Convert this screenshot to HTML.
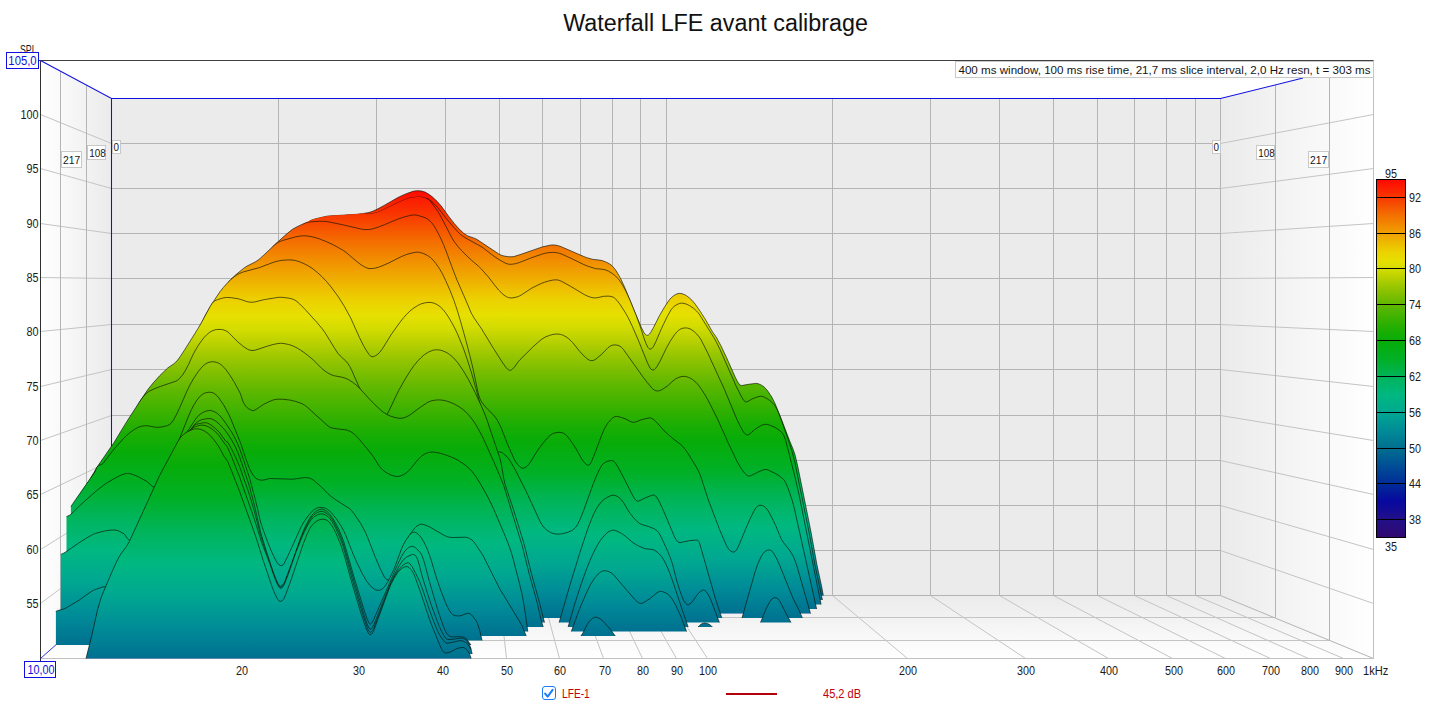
<!DOCTYPE html>
<html><head><meta charset="utf-8"><title>Waterfall</title>
<style>
html,body{margin:0;padding:0;background:#fff;}
body{width:1431px;height:709px;position:relative;overflow:hidden;font-family:"Liberation Sans",sans-serif;}
.t{position:absolute;font-size:12px;line-height:16px;color:#1a1a1a;white-space:nowrap;}
.n{transform:scaleX(.9);} .r{text-align:right;} .c{text-align:center;}
.title{position:absolute;left:0;width:1431px;top:8px;text-align:center;font-size:23.3px;line-height:30px;color:#111;}
.box span{display:inline-block;transform:scaleX(.9);}
.box{position:absolute;background:#fff;border:1px solid #c8c8c8;font-size:11.5px;line-height:13px;color:#151515;text-align:center;box-sizing:border-box;}
.bbox{position:absolute;background:#fff;border:1px solid #1010e0;color:#1010e0;font-size:12px;line-height:14px;text-align:center;box-sizing:border-box;}
</style></head><body>
<svg width="1431" height="709" viewBox="0 0 1431 709" style="position:absolute;left:0;top:0">
<defs>
<linearGradient id="lw" x1="0" x2="1" y1="0" y2="0"><stop offset="0" stop-color="#ffffff"/><stop offset="1" stop-color="#ebebeb"/></linearGradient>
<linearGradient id="rw" x1="0" x2="1" y1="0" y2="0"><stop offset="0" stop-color="#ebebeb"/><stop offset="1" stop-color="#ffffff"/></linearGradient>
<linearGradient id="fw" x1="0" x2="0" y1="0" y2="1"><stop offset="0" stop-color="#ebebeb"/><stop offset="1" stop-color="#ffffff"/></linearGradient>
</defs>
<polygon points="40.5,60.5 111.5,98.5 111.5,595.5 40.5,658.5" fill="url(#lw)"/>
<polygon points="1220.5,98.5 1373.5,60.5 1373.5,658.5 1220.5,595.5" fill="url(#rw)"/>
<polygon points="111.5,595.5 1220.5,595.5 1373.5,658.5 40.5,658.5" fill="url(#fw)"/>
<rect x="111.5" y="98.5" width="1109.0" height="497.0" fill="#ebebeb"/>
<g shape-rendering="auto"><line x1="278.5" y1="98.5" x2="278.5" y2="595.5" stroke="#b4b4b4"/><line x1="278.5" y1="595.5" x2="241.5" y2="658.5" stroke="#c4c4c4"/><line x1="376.5" y1="98.5" x2="376.5" y2="595.5" stroke="#b4b4b4"/><line x1="376.5" y1="595.5" x2="358.5" y2="658.5" stroke="#c4c4c4"/><line x1="445.5" y1="98.5" x2="445.5" y2="595.5" stroke="#b4b4b4"/><line x1="445.5" y1="595.5" x2="441.5" y2="658.5" stroke="#c4c4c4"/><line x1="499.5" y1="98.5" x2="499.5" y2="595.5" stroke="#b4b4b4"/><line x1="499.5" y1="595.5" x2="506.5" y2="658.5" stroke="#c4c4c4"/><line x1="542.5" y1="98.5" x2="542.5" y2="595.5" stroke="#b4b4b4"/><line x1="542.5" y1="595.5" x2="559.5" y2="658.5" stroke="#c4c4c4"/><line x1="580.5" y1="98.5" x2="580.5" y2="595.5" stroke="#b4b4b4"/><line x1="580.5" y1="595.5" x2="603.5" y2="658.5" stroke="#c4c4c4"/><line x1="612.5" y1="98.5" x2="612.5" y2="595.5" stroke="#b4b4b4"/><line x1="612.5" y1="595.5" x2="642.5" y2="658.5" stroke="#c4c4c4"/><line x1="640.5" y1="98.5" x2="640.5" y2="595.5" stroke="#b4b4b4"/><line x1="640.5" y1="595.5" x2="676.5" y2="658.5" stroke="#c4c4c4"/><line x1="666.5" y1="98.5" x2="666.5" y2="595.5" stroke="#b4b4b4"/><line x1="666.5" y1="595.5" x2="707.5" y2="658.5" stroke="#c4c4c4"/><line x1="832.5" y1="98.5" x2="832.5" y2="595.5" stroke="#b4b4b4"/><line x1="832.5" y1="595.5" x2="907.5" y2="658.5" stroke="#c4c4c4"/><line x1="930.5" y1="98.5" x2="930.5" y2="595.5" stroke="#b4b4b4"/><line x1="930.5" y1="595.5" x2="1025.5" y2="658.5" stroke="#c4c4c4"/><line x1="999.5" y1="98.5" x2="999.5" y2="595.5" stroke="#b4b4b4"/><line x1="999.5" y1="595.5" x2="1108.5" y2="658.5" stroke="#c4c4c4"/><line x1="1053.5" y1="98.5" x2="1053.5" y2="595.5" stroke="#b4b4b4"/><line x1="1053.5" y1="595.5" x2="1172.5" y2="658.5" stroke="#c4c4c4"/><line x1="1097.5" y1="98.5" x2="1097.5" y2="595.5" stroke="#b4b4b4"/><line x1="1097.5" y1="595.5" x2="1225.5" y2="658.5" stroke="#c4c4c4"/><line x1="1134.5" y1="98.5" x2="1134.5" y2="595.5" stroke="#b4b4b4"/><line x1="1134.5" y1="595.5" x2="1270.5" y2="658.5" stroke="#c4c4c4"/><line x1="1166.5" y1="98.5" x2="1166.5" y2="595.5" stroke="#b4b4b4"/><line x1="1166.5" y1="595.5" x2="1308.5" y2="658.5" stroke="#c4c4c4"/><line x1="1195.5" y1="98.5" x2="1195.5" y2="595.5" stroke="#b4b4b4"/><line x1="1195.5" y1="595.5" x2="1343.5" y2="658.5" stroke="#c4c4c4"/><line x1="111.5" y1="550.5" x2="1220.5" y2="550.5" stroke="#b4b4b4"/><line x1="40.5" y1="603.5" x2="111.5" y2="550.5" stroke="#c4c4c4"/><line x1="1220.5" y1="550.5" x2="1373.5" y2="603.5" stroke="#c4c4c4"/><line x1="111.5" y1="505.5" x2="1220.5" y2="505.5" stroke="#b4b4b4"/><line x1="40.5" y1="549.5" x2="111.5" y2="505.5" stroke="#c4c4c4"/><line x1="1220.5" y1="505.5" x2="1373.5" y2="549.5" stroke="#c4c4c4"/><line x1="111.5" y1="460.5" x2="1220.5" y2="460.5" stroke="#b4b4b4"/><line x1="40.5" y1="494.5" x2="111.5" y2="460.5" stroke="#c4c4c4"/><line x1="1220.5" y1="460.5" x2="1373.5" y2="494.5" stroke="#c4c4c4"/><line x1="111.5" y1="415.5" x2="1220.5" y2="415.5" stroke="#b4b4b4"/><line x1="40.5" y1="440.5" x2="111.5" y2="415.5" stroke="#c4c4c4"/><line x1="1220.5" y1="415.5" x2="1373.5" y2="440.5" stroke="#c4c4c4"/><line x1="111.5" y1="369.5" x2="1220.5" y2="369.5" stroke="#b4b4b4"/><line x1="40.5" y1="386.5" x2="111.5" y2="369.5" stroke="#c4c4c4"/><line x1="1220.5" y1="369.5" x2="1373.5" y2="386.5" stroke="#c4c4c4"/><line x1="111.5" y1="324.5" x2="1220.5" y2="324.5" stroke="#b4b4b4"/><line x1="40.5" y1="331.5" x2="111.5" y2="324.5" stroke="#c4c4c4"/><line x1="1220.5" y1="324.5" x2="1373.5" y2="331.5" stroke="#c4c4c4"/><line x1="111.5" y1="278.5" x2="1220.5" y2="278.5" stroke="#b4b4b4"/><line x1="40.5" y1="277.5" x2="111.5" y2="278.5" stroke="#c4c4c4"/><line x1="1220.5" y1="278.5" x2="1373.5" y2="277.5" stroke="#c4c4c4"/><line x1="111.5" y1="233.5" x2="1220.5" y2="233.5" stroke="#b4b4b4"/><line x1="40.5" y1="223.5" x2="111.5" y2="233.5" stroke="#c4c4c4"/><line x1="1220.5" y1="233.5" x2="1373.5" y2="223.5" stroke="#c4c4c4"/><line x1="111.5" y1="188.5" x2="1220.5" y2="188.5" stroke="#b4b4b4"/><line x1="40.5" y1="168.5" x2="111.5" y2="188.5" stroke="#c4c4c4"/><line x1="1220.5" y1="188.5" x2="1373.5" y2="168.5" stroke="#c4c4c4"/><line x1="111.5" y1="143.5" x2="1220.5" y2="143.5" stroke="#b4b4b4"/><line x1="40.5" y1="114.5" x2="111.5" y2="143.5" stroke="#c4c4c4"/><line x1="1220.5" y1="143.5" x2="1373.5" y2="114.5" stroke="#c4c4c4"/><line x1="86.5" y1="84.9" x2="86.5" y2="617.5" stroke="#b4b4b4"/><line x1="1275.5" y1="84.9" x2="1275.5" y2="617.5" stroke="#b4b4b4"/><line x1="86.5" y1="617.5" x2="1275.5" y2="617.5" stroke="#c4c4c4"/><line x1="60.5" y1="71.4" x2="60.5" y2="640.5" stroke="#b4b4b4"/><line x1="1329.5" y1="71.4" x2="1329.5" y2="640.5" stroke="#b4b4b4"/><line x1="60.5" y1="640.5" x2="1329.5" y2="640.5" stroke="#c4c4c4"/><line x1="1220.5" y1="98.5" x2="1220.5" y2="595.5" stroke="#b4b4b4"/><line x1="111.5" y1="595.5" x2="1220.5" y2="595.5" stroke="#b4b4b4"/><line x1="1220.5" y1="595.5" x2="1373.5" y2="658.5" stroke="#b4b4b4"/><line x1="1373.5" y1="60.5" x2="1373.5" y2="658.5" stroke="#c0c0c0"/><line x1="40.5" y1="658.5" x2="1373.5" y2="658.5" stroke="#c0c0c0"/><line x1="40.5" y1="60.5" x2="1373.5" y2="60.5" stroke="#404040"/><line x1="40.5" y1="60.5" x2="40.5" y2="661.0" stroke="#303030"/><line x1="38.5" y1="60.5" x2="40.5" y2="60.5" stroke="#303030"/><polyline points="40.5,60.5 111.5,98.5 1220.5,98.5 1303,78" fill="none" stroke="#1010e0" stroke-width="1.05"/><line x1="111.5" y1="98.5" x2="111.5" y2="595.5" stroke="#1010e0" stroke-width="1.05"/><line x1="40.5" y1="658.5" x2="111.5" y2="595.5" stroke="#1010e0" stroke-width="1" stroke-opacity=".85"/></g>
<defs>
<linearGradient id="g0" gradientUnits="userSpaceOnUse" x1="0" y1="595.50" x2="0" y2="98.50"><stop offset="-0.0573" stop-color="#004e96"/><stop offset="-0.0027" stop-color="#007090"/><stop offset="0.0518" stop-color="#008c98"/><stop offset="0.1064" stop-color="#00a890"/><stop offset="0.1609" stop-color="#00b880"/><stop offset="0.2155" stop-color="#00b458"/><stop offset="0.2700" stop-color="#00b024"/><stop offset="0.3245" stop-color="#08ac08"/><stop offset="0.3518" stop-color="#18ae04"/><stop offset="0.3791" stop-color="#30b000"/><stop offset="0.4064" stop-color="#48b400"/><stop offset="0.4336" stop-color="#60b800"/><stop offset="0.4609" stop-color="#7cbe00"/><stop offset="0.4882" stop-color="#98c600"/><stop offset="0.5155" stop-color="#b8d000"/><stop offset="0.5427" stop-color="#d4dc00"/><stop offset="0.5664" stop-color="#e6e000"/><stop offset="0.5973" stop-color="#ecd000"/><stop offset="0.6518" stop-color="#f0a000"/><stop offset="0.7064" stop-color="#f47000"/><stop offset="0.7609" stop-color="#f83800"/><stop offset="0.8155" stop-color="#ff0800"/><stop offset="0.9973" stop-color="#ff0000"/></linearGradient>
<linearGradient id="g1" gradientUnits="userSpaceOnUse" x1="0" y1="600.00" x2="0" y2="95.79"><stop offset="-0.0573" stop-color="#004e96"/><stop offset="-0.0027" stop-color="#007090"/><stop offset="0.0518" stop-color="#008c98"/><stop offset="0.1064" stop-color="#00a890"/><stop offset="0.1609" stop-color="#00b880"/><stop offset="0.2155" stop-color="#00b458"/><stop offset="0.2700" stop-color="#00b024"/><stop offset="0.3245" stop-color="#08ac08"/><stop offset="0.3518" stop-color="#18ae04"/><stop offset="0.3791" stop-color="#30b000"/><stop offset="0.4064" stop-color="#48b400"/><stop offset="0.4336" stop-color="#60b800"/><stop offset="0.4609" stop-color="#7cbe00"/><stop offset="0.4882" stop-color="#98c600"/><stop offset="0.5155" stop-color="#b8d000"/><stop offset="0.5427" stop-color="#d4dc00"/><stop offset="0.5664" stop-color="#e6e000"/><stop offset="0.5973" stop-color="#ecd000"/><stop offset="0.6518" stop-color="#f0a000"/><stop offset="0.7064" stop-color="#f47000"/><stop offset="0.7609" stop-color="#f83800"/><stop offset="0.8155" stop-color="#ff0800"/><stop offset="0.9973" stop-color="#ff0000"/></linearGradient>
<linearGradient id="g2" gradientUnits="userSpaceOnUse" x1="0" y1="604.50" x2="0" y2="93.07"><stop offset="-0.0573" stop-color="#004e96"/><stop offset="-0.0027" stop-color="#007090"/><stop offset="0.0518" stop-color="#008c98"/><stop offset="0.1064" stop-color="#00a890"/><stop offset="0.1609" stop-color="#00b880"/><stop offset="0.2155" stop-color="#00b458"/><stop offset="0.2700" stop-color="#00b024"/><stop offset="0.3245" stop-color="#08ac08"/><stop offset="0.3518" stop-color="#18ae04"/><stop offset="0.3791" stop-color="#30b000"/><stop offset="0.4064" stop-color="#48b400"/><stop offset="0.4336" stop-color="#60b800"/><stop offset="0.4609" stop-color="#7cbe00"/><stop offset="0.4882" stop-color="#98c600"/><stop offset="0.5155" stop-color="#b8d000"/><stop offset="0.5427" stop-color="#d4dc00"/><stop offset="0.5664" stop-color="#e6e000"/><stop offset="0.5973" stop-color="#ecd000"/><stop offset="0.6518" stop-color="#f0a000"/><stop offset="0.7064" stop-color="#f47000"/><stop offset="0.7609" stop-color="#f83800"/><stop offset="0.8155" stop-color="#ff0800"/><stop offset="0.9973" stop-color="#ff0000"/></linearGradient>
<linearGradient id="g3" gradientUnits="userSpaceOnUse" x1="0" y1="609.00" x2="0" y2="90.36"><stop offset="-0.0573" stop-color="#004e96"/><stop offset="-0.0027" stop-color="#007090"/><stop offset="0.0518" stop-color="#008c98"/><stop offset="0.1064" stop-color="#00a890"/><stop offset="0.1609" stop-color="#00b880"/><stop offset="0.2155" stop-color="#00b458"/><stop offset="0.2700" stop-color="#00b024"/><stop offset="0.3245" stop-color="#08ac08"/><stop offset="0.3518" stop-color="#18ae04"/><stop offset="0.3791" stop-color="#30b000"/><stop offset="0.4064" stop-color="#48b400"/><stop offset="0.4336" stop-color="#60b800"/><stop offset="0.4609" stop-color="#7cbe00"/><stop offset="0.4882" stop-color="#98c600"/><stop offset="0.5155" stop-color="#b8d000"/><stop offset="0.5427" stop-color="#d4dc00"/><stop offset="0.5664" stop-color="#e6e000"/><stop offset="0.5973" stop-color="#ecd000"/><stop offset="0.6518" stop-color="#f0a000"/><stop offset="0.7064" stop-color="#f47000"/><stop offset="0.7609" stop-color="#f83800"/><stop offset="0.8155" stop-color="#ff0800"/><stop offset="0.9973" stop-color="#ff0000"/></linearGradient>
<linearGradient id="g4" gradientUnits="userSpaceOnUse" x1="0" y1="613.50" x2="0" y2="87.64"><stop offset="-0.0573" stop-color="#004e96"/><stop offset="-0.0027" stop-color="#007090"/><stop offset="0.0518" stop-color="#008c98"/><stop offset="0.1064" stop-color="#00a890"/><stop offset="0.1609" stop-color="#00b880"/><stop offset="0.2155" stop-color="#00b458"/><stop offset="0.2700" stop-color="#00b024"/><stop offset="0.3245" stop-color="#08ac08"/><stop offset="0.3518" stop-color="#18ae04"/><stop offset="0.3791" stop-color="#30b000"/><stop offset="0.4064" stop-color="#48b400"/><stop offset="0.4336" stop-color="#60b800"/><stop offset="0.4609" stop-color="#7cbe00"/><stop offset="0.4882" stop-color="#98c600"/><stop offset="0.5155" stop-color="#b8d000"/><stop offset="0.5427" stop-color="#d4dc00"/><stop offset="0.5664" stop-color="#e6e000"/><stop offset="0.5973" stop-color="#ecd000"/><stop offset="0.6518" stop-color="#f0a000"/><stop offset="0.7064" stop-color="#f47000"/><stop offset="0.7609" stop-color="#f83800"/><stop offset="0.8155" stop-color="#ff0800"/><stop offset="0.9973" stop-color="#ff0000"/></linearGradient>
<linearGradient id="g5" gradientUnits="userSpaceOnUse" x1="0" y1="618.00" x2="0" y2="84.93"><stop offset="-0.0573" stop-color="#004e96"/><stop offset="-0.0027" stop-color="#007090"/><stop offset="0.0518" stop-color="#008c98"/><stop offset="0.1064" stop-color="#00a890"/><stop offset="0.1609" stop-color="#00b880"/><stop offset="0.2155" stop-color="#00b458"/><stop offset="0.2700" stop-color="#00b024"/><stop offset="0.3245" stop-color="#08ac08"/><stop offset="0.3518" stop-color="#18ae04"/><stop offset="0.3791" stop-color="#30b000"/><stop offset="0.4064" stop-color="#48b400"/><stop offset="0.4336" stop-color="#60b800"/><stop offset="0.4609" stop-color="#7cbe00"/><stop offset="0.4882" stop-color="#98c600"/><stop offset="0.5155" stop-color="#b8d000"/><stop offset="0.5427" stop-color="#d4dc00"/><stop offset="0.5664" stop-color="#e6e000"/><stop offset="0.5973" stop-color="#ecd000"/><stop offset="0.6518" stop-color="#f0a000"/><stop offset="0.7064" stop-color="#f47000"/><stop offset="0.7609" stop-color="#f83800"/><stop offset="0.8155" stop-color="#ff0800"/><stop offset="0.9973" stop-color="#ff0000"/></linearGradient>
<linearGradient id="g6" gradientUnits="userSpaceOnUse" x1="0" y1="622.50" x2="0" y2="82.21"><stop offset="-0.0573" stop-color="#004e96"/><stop offset="-0.0027" stop-color="#007090"/><stop offset="0.0518" stop-color="#008c98"/><stop offset="0.1064" stop-color="#00a890"/><stop offset="0.1609" stop-color="#00b880"/><stop offset="0.2155" stop-color="#00b458"/><stop offset="0.2700" stop-color="#00b024"/><stop offset="0.3245" stop-color="#08ac08"/><stop offset="0.3518" stop-color="#18ae04"/><stop offset="0.3791" stop-color="#30b000"/><stop offset="0.4064" stop-color="#48b400"/><stop offset="0.4336" stop-color="#60b800"/><stop offset="0.4609" stop-color="#7cbe00"/><stop offset="0.4882" stop-color="#98c600"/><stop offset="0.5155" stop-color="#b8d000"/><stop offset="0.5427" stop-color="#d4dc00"/><stop offset="0.5664" stop-color="#e6e000"/><stop offset="0.5973" stop-color="#ecd000"/><stop offset="0.6518" stop-color="#f0a000"/><stop offset="0.7064" stop-color="#f47000"/><stop offset="0.7609" stop-color="#f83800"/><stop offset="0.8155" stop-color="#ff0800"/><stop offset="0.9973" stop-color="#ff0000"/></linearGradient>
<linearGradient id="g7" gradientUnits="userSpaceOnUse" x1="0" y1="627.00" x2="0" y2="79.50"><stop offset="-0.0573" stop-color="#004e96"/><stop offset="-0.0027" stop-color="#007090"/><stop offset="0.0518" stop-color="#008c98"/><stop offset="0.1064" stop-color="#00a890"/><stop offset="0.1609" stop-color="#00b880"/><stop offset="0.2155" stop-color="#00b458"/><stop offset="0.2700" stop-color="#00b024"/><stop offset="0.3245" stop-color="#08ac08"/><stop offset="0.3518" stop-color="#18ae04"/><stop offset="0.3791" stop-color="#30b000"/><stop offset="0.4064" stop-color="#48b400"/><stop offset="0.4336" stop-color="#60b800"/><stop offset="0.4609" stop-color="#7cbe00"/><stop offset="0.4882" stop-color="#98c600"/><stop offset="0.5155" stop-color="#b8d000"/><stop offset="0.5427" stop-color="#d4dc00"/><stop offset="0.5664" stop-color="#e6e000"/><stop offset="0.5973" stop-color="#ecd000"/><stop offset="0.6518" stop-color="#f0a000"/><stop offset="0.7064" stop-color="#f47000"/><stop offset="0.7609" stop-color="#f83800"/><stop offset="0.8155" stop-color="#ff0800"/><stop offset="0.9973" stop-color="#ff0000"/></linearGradient>
<linearGradient id="g8" gradientUnits="userSpaceOnUse" x1="0" y1="631.50" x2="0" y2="76.79"><stop offset="-0.0573" stop-color="#004e96"/><stop offset="-0.0027" stop-color="#007090"/><stop offset="0.0518" stop-color="#008c98"/><stop offset="0.1064" stop-color="#00a890"/><stop offset="0.1609" stop-color="#00b880"/><stop offset="0.2155" stop-color="#00b458"/><stop offset="0.2700" stop-color="#00b024"/><stop offset="0.3245" stop-color="#08ac08"/><stop offset="0.3518" stop-color="#18ae04"/><stop offset="0.3791" stop-color="#30b000"/><stop offset="0.4064" stop-color="#48b400"/><stop offset="0.4336" stop-color="#60b800"/><stop offset="0.4609" stop-color="#7cbe00"/><stop offset="0.4882" stop-color="#98c600"/><stop offset="0.5155" stop-color="#b8d000"/><stop offset="0.5427" stop-color="#d4dc00"/><stop offset="0.5664" stop-color="#e6e000"/><stop offset="0.5973" stop-color="#ecd000"/><stop offset="0.6518" stop-color="#f0a000"/><stop offset="0.7064" stop-color="#f47000"/><stop offset="0.7609" stop-color="#f83800"/><stop offset="0.8155" stop-color="#ff0800"/><stop offset="0.9973" stop-color="#ff0000"/></linearGradient>
<linearGradient id="g9" gradientUnits="userSpaceOnUse" x1="0" y1="636.00" x2="0" y2="74.07"><stop offset="-0.0573" stop-color="#004e96"/><stop offset="-0.0027" stop-color="#007090"/><stop offset="0.0518" stop-color="#008c98"/><stop offset="0.1064" stop-color="#00a890"/><stop offset="0.1609" stop-color="#00b880"/><stop offset="0.2155" stop-color="#00b458"/><stop offset="0.2700" stop-color="#00b024"/><stop offset="0.3245" stop-color="#08ac08"/><stop offset="0.3518" stop-color="#18ae04"/><stop offset="0.3791" stop-color="#30b000"/><stop offset="0.4064" stop-color="#48b400"/><stop offset="0.4336" stop-color="#60b800"/><stop offset="0.4609" stop-color="#7cbe00"/><stop offset="0.4882" stop-color="#98c600"/><stop offset="0.5155" stop-color="#b8d000"/><stop offset="0.5427" stop-color="#d4dc00"/><stop offset="0.5664" stop-color="#e6e000"/><stop offset="0.5973" stop-color="#ecd000"/><stop offset="0.6518" stop-color="#f0a000"/><stop offset="0.7064" stop-color="#f47000"/><stop offset="0.7609" stop-color="#f83800"/><stop offset="0.8155" stop-color="#ff0800"/><stop offset="0.9973" stop-color="#ff0000"/></linearGradient>
<linearGradient id="g10" gradientUnits="userSpaceOnUse" x1="0" y1="640.50" x2="0" y2="71.36"><stop offset="-0.0573" stop-color="#004e96"/><stop offset="-0.0027" stop-color="#007090"/><stop offset="0.0518" stop-color="#008c98"/><stop offset="0.1064" stop-color="#00a890"/><stop offset="0.1609" stop-color="#00b880"/><stop offset="0.2155" stop-color="#00b458"/><stop offset="0.2700" stop-color="#00b024"/><stop offset="0.3245" stop-color="#08ac08"/><stop offset="0.3518" stop-color="#18ae04"/><stop offset="0.3791" stop-color="#30b000"/><stop offset="0.4064" stop-color="#48b400"/><stop offset="0.4336" stop-color="#60b800"/><stop offset="0.4609" stop-color="#7cbe00"/><stop offset="0.4882" stop-color="#98c600"/><stop offset="0.5155" stop-color="#b8d000"/><stop offset="0.5427" stop-color="#d4dc00"/><stop offset="0.5664" stop-color="#e6e000"/><stop offset="0.5973" stop-color="#ecd000"/><stop offset="0.6518" stop-color="#f0a000"/><stop offset="0.7064" stop-color="#f47000"/><stop offset="0.7609" stop-color="#f83800"/><stop offset="0.8155" stop-color="#ff0800"/><stop offset="0.9973" stop-color="#ff0000"/></linearGradient>
<linearGradient id="g11" gradientUnits="userSpaceOnUse" x1="0" y1="645.00" x2="0" y2="68.64"><stop offset="-0.0573" stop-color="#004e96"/><stop offset="-0.0027" stop-color="#007090"/><stop offset="0.0518" stop-color="#008c98"/><stop offset="0.1064" stop-color="#00a890"/><stop offset="0.1609" stop-color="#00b880"/><stop offset="0.2155" stop-color="#00b458"/><stop offset="0.2700" stop-color="#00b024"/><stop offset="0.3245" stop-color="#08ac08"/><stop offset="0.3518" stop-color="#18ae04"/><stop offset="0.3791" stop-color="#30b000"/><stop offset="0.4064" stop-color="#48b400"/><stop offset="0.4336" stop-color="#60b800"/><stop offset="0.4609" stop-color="#7cbe00"/><stop offset="0.4882" stop-color="#98c600"/><stop offset="0.5155" stop-color="#b8d000"/><stop offset="0.5427" stop-color="#d4dc00"/><stop offset="0.5664" stop-color="#e6e000"/><stop offset="0.5973" stop-color="#ecd000"/><stop offset="0.6518" stop-color="#f0a000"/><stop offset="0.7064" stop-color="#f47000"/><stop offset="0.7609" stop-color="#f83800"/><stop offset="0.8155" stop-color="#ff0800"/><stop offset="0.9973" stop-color="#ff0000"/></linearGradient>
<linearGradient id="g12" gradientUnits="userSpaceOnUse" x1="0" y1="649.50" x2="0" y2="65.93"><stop offset="-0.0573" stop-color="#004e96"/><stop offset="-0.0027" stop-color="#007090"/><stop offset="0.0518" stop-color="#008c98"/><stop offset="0.1064" stop-color="#00a890"/><stop offset="0.1609" stop-color="#00b880"/><stop offset="0.2155" stop-color="#00b458"/><stop offset="0.2700" stop-color="#00b024"/><stop offset="0.3245" stop-color="#08ac08"/><stop offset="0.3518" stop-color="#18ae04"/><stop offset="0.3791" stop-color="#30b000"/><stop offset="0.4064" stop-color="#48b400"/><stop offset="0.4336" stop-color="#60b800"/><stop offset="0.4609" stop-color="#7cbe00"/><stop offset="0.4882" stop-color="#98c600"/><stop offset="0.5155" stop-color="#b8d000"/><stop offset="0.5427" stop-color="#d4dc00"/><stop offset="0.5664" stop-color="#e6e000"/><stop offset="0.5973" stop-color="#ecd000"/><stop offset="0.6518" stop-color="#f0a000"/><stop offset="0.7064" stop-color="#f47000"/><stop offset="0.7609" stop-color="#f83800"/><stop offset="0.8155" stop-color="#ff0800"/><stop offset="0.9973" stop-color="#ff0000"/></linearGradient>
<linearGradient id="g13" gradientUnits="userSpaceOnUse" x1="0" y1="654.00" x2="0" y2="63.21"><stop offset="-0.0573" stop-color="#004e96"/><stop offset="-0.0027" stop-color="#007090"/><stop offset="0.0518" stop-color="#008c98"/><stop offset="0.1064" stop-color="#00a890"/><stop offset="0.1609" stop-color="#00b880"/><stop offset="0.2155" stop-color="#00b458"/><stop offset="0.2700" stop-color="#00b024"/><stop offset="0.3245" stop-color="#08ac08"/><stop offset="0.3518" stop-color="#18ae04"/><stop offset="0.3791" stop-color="#30b000"/><stop offset="0.4064" stop-color="#48b400"/><stop offset="0.4336" stop-color="#60b800"/><stop offset="0.4609" stop-color="#7cbe00"/><stop offset="0.4882" stop-color="#98c600"/><stop offset="0.5155" stop-color="#b8d000"/><stop offset="0.5427" stop-color="#d4dc00"/><stop offset="0.5664" stop-color="#e6e000"/><stop offset="0.5973" stop-color="#ecd000"/><stop offset="0.6518" stop-color="#f0a000"/><stop offset="0.7064" stop-color="#f47000"/><stop offset="0.7609" stop-color="#f83800"/><stop offset="0.8155" stop-color="#ff0800"/><stop offset="0.9973" stop-color="#ff0000"/></linearGradient>
<linearGradient id="g14" gradientUnits="userSpaceOnUse" x1="0" y1="658.50" x2="0" y2="60.50"><stop offset="-0.0573" stop-color="#004e96"/><stop offset="-0.0027" stop-color="#007090"/><stop offset="0.0518" stop-color="#008c98"/><stop offset="0.1064" stop-color="#00a890"/><stop offset="0.1609" stop-color="#00b880"/><stop offset="0.2155" stop-color="#00b458"/><stop offset="0.2700" stop-color="#00b024"/><stop offset="0.3245" stop-color="#08ac08"/><stop offset="0.3518" stop-color="#18ae04"/><stop offset="0.3791" stop-color="#30b000"/><stop offset="0.4064" stop-color="#48b400"/><stop offset="0.4336" stop-color="#60b800"/><stop offset="0.4609" stop-color="#7cbe00"/><stop offset="0.4882" stop-color="#98c600"/><stop offset="0.5155" stop-color="#b8d000"/><stop offset="0.5427" stop-color="#d4dc00"/><stop offset="0.5664" stop-color="#e6e000"/><stop offset="0.5973" stop-color="#ecd000"/><stop offset="0.6518" stop-color="#f0a000"/><stop offset="0.7064" stop-color="#f47000"/><stop offset="0.7609" stop-color="#f83800"/><stop offset="0.8155" stop-color="#ff0800"/><stop offset="0.9973" stop-color="#ff0000"/></linearGradient>
</defs>
<path d="M111.5,448.8 115.2,443.2 124.0,428.6 135.5,410.5 142.2,400.2 148.0,391.9 154.2,384.1 161.2,376.6 167.8,370.4 174.5,365.8 176.2,364.2 177.8,362.4 183.0,354.9 196.8,333.1 200.5,326.8 210.2,309.3 214.5,302.3 218.5,296.3 222.5,291.0 227.2,285.6 233.5,279.3 239.5,274.0 245.2,269.6 254.5,264.8 258.5,262.2 263.2,258.1 281.5,241.0 289.0,234.5 292.2,232.0 295.5,230.0 299.2,228.1 307.5,224.4 308.0,223.9 309.5,221.1 310.0,220.6 315.0,218.9 323.5,216.9 327.5,216.1 356.5,214.3 364.0,213.4 369.0,212.5 372.8,211.2 377.0,209.3 384.2,205.4 397.0,198.0 401.2,195.9 405.8,193.9 411.5,191.8 414.5,190.9 418.0,190.7 421.5,191.0 425.0,192.1 428.5,194.0 432.0,196.6 437.0,201.2 441.2,206.0 448.8,216.5 454.2,223.4 459.2,229.1 463.5,233.1 465.8,234.7 467.8,235.9 474.8,238.4 477.2,239.6 498.5,253.8 501.2,255.2 504.0,256.0 508.0,256.7 511.0,256.8 513.8,256.6 521.0,254.3 538.0,248.4 542.8,246.8 549.5,245.3 552.2,244.9 554.5,245.0 557.8,245.5 561.2,246.7 583.8,256.5 586.8,257.7 593.0,259.4 599.5,260.1 602.2,260.6 605.8,261.9 609.5,263.8 612.0,265.8 614.8,268.9 617.5,273.1 620.8,278.9 625.2,288.5 634.8,312.1 641.5,327.8 644.2,333.0 645.5,334.5 646.5,335.2 647.5,335.3 648.5,334.9 649.5,334.0 650.5,332.7 653.5,327.5 659.5,315.6 664.8,306.6 669.2,300.0 671.2,297.8 673.5,295.8 675.8,294.4 677.8,293.6 679.8,293.4 682.0,293.7 684.2,294.5 686.5,295.7 689.5,298.0 692.0,300.3 695.2,304.1 700.2,311.3 704.8,318.5 712.8,332.4 716.0,336.8 717.2,338.8 720.8,345.5 726.5,357.5 735.5,377.8 737.5,381.6 739.0,383.8 740.2,385.1 741.5,385.6 748.5,384.3 755.8,383.4 758.2,383.7 761.0,384.9 762.8,386.0 764.2,387.1 766.0,388.9 767.8,391.1 771.8,397.1 775.0,403.4 780.8,417.7 789.5,440.5 793.0,449.0 794.8,454.1 796.2,459.6 798.2,468.4 811.0,532.1 817.0,565.2 821.5,585.9 823.3,595.5 L823.3,595.5 L111.5,595.5Z" fill="url(#g0)"/>
<path d="M295.5,230.0 299.2,228.1 307.5,224.4 308.0,223.9 309.5,221.1 310.0,220.6 315.0,218.9 323.5,216.9 327.5,216.1 356.5,214.3 364.0,213.4 369.0,212.5 372.8,211.2 377.0,209.3 384.2,205.4 397.0,198.0 401.2,195.9 405.8,193.9 411.5,191.8 414.5,190.9 418.0,190.7 421.5,191.0 425.0,192.1 428.5,194.0 432.0,196.6 437.0,201.2 441.2,206.0 448.8,216.5 454.2,223.4 459.2,229.1 463.5,233.1 465.8,234.7 467.8,235.9 474.8,238.4 477.2,239.6 498.5,253.8 501.2,255.2 504.0,256.0 508.0,256.7 511.0,256.8 513.8,256.6 521.0,254.3 538.0,248.4 542.8,246.8 549.5,245.3 552.2,244.9 554.5,245.0 557.8,245.5 561.2,246.7 583.8,256.5 586.8,257.7 593.0,259.4 599.5,260.1 602.2,260.6 605.8,261.9 609.5,263.8 612.0,265.8 614.8,268.9 617.5,273.1 620.8,278.9 625.2,288.5 634.8,312.1 641.5,327.8 644.2,333.0 645.5,334.5 646.5,335.2 647.5,335.3 648.5,334.9 649.5,334.0 650.5,332.7 653.5,327.5 659.5,315.6 664.8,306.6 669.2,300.0 671.2,297.8 673.5,295.8 675.8,294.4 677.8,293.6 679.8,293.4 682.0,293.7 684.2,294.5 686.5,295.7 689.5,298.0 692.0,300.3 695.2,304.1 700.2,311.3 704.8,318.5 712.8,332.4 716.0,336.8 717.2,338.8 720.8,345.5 726.5,357.5 735.5,377.8 737.5,381.6 739.0,383.8 740.2,385.1 741.5,385.6 748.5,384.3 755.8,383.4 758.2,383.7 761.0,384.9 762.8,386.0 764.2,387.1 766.0,388.9 767.8,391.1 771.8,397.1 775.0,403.4 780.8,417.7 789.5,440.5 793.0,449.0 794.8,454.1 796.2,459.6 798.2,468.4 811.0,532.1 817.0,565.2 821.5,585.9 823.3,595.5" fill="none" stroke="#081004" stroke-width="0.75" stroke-opacity="0.85" stroke-linejoin="round"/>
<path d="M106.4,455.6 114.2,444.3 123.7,428.6 131.7,416.0 140.4,402.5 147.7,391.8 153.9,384.0 161.2,376.2 167.7,370.0 174.7,365.1 176.2,363.7 177.7,362.0 183.2,354.1 196.9,332.3 200.7,326.0 210.2,308.9 214.7,301.6 218.7,295.5 222.9,290.0 227.9,284.4 234.4,278.0 240.7,272.5 245.4,269.0 254.9,264.1 258.9,261.4 263.4,257.4 274.7,246.7 282.7,239.4 291.2,232.3 295.9,229.3 302.4,226.2 304.4,223.3 312.2,219.8 321.4,217.3 328.4,216.0 352.7,214.6 364.4,213.4 366.9,214.3 370.2,214.0 373.2,213.5 376.9,212.6 380.7,211.2 396.7,203.3 406.9,198.8 410.7,197.9 416.7,197.1 420.2,197.1 423.2,197.4 426.2,198.3 428.9,199.6 431.7,201.5 434.4,204.0 438.4,208.4 446.9,219.2 454.2,227.8 458.2,232.2 461.4,235.1 463.9,236.9 467.2,238.9 480.9,246.4 484.2,248.7 491.9,254.7 495.7,257.4 501.4,261.0 505.9,263.4 508.2,264.1 510.2,264.3 512.4,264.2 515.4,263.7 519.4,262.5 531.9,257.6 542.9,253.8 545.9,253.1 549.2,252.6 552.4,252.4 555.2,252.5 558.7,253.1 561.9,254.1 571.2,258.4 583.9,264.6 588.2,266.3 595.4,268.6 602.7,269.3 605.4,269.9 608.4,271.1 612.2,273.4 615.7,276.1 619.2,280.0 622.4,284.8 625.9,291.3 630.4,301.2 636.2,315.5 639.4,324.2 643.9,337.8 645.9,343.3 647.9,347.3 648.9,348.5 649.7,349.0 650.7,349.1 651.7,348.6 652.7,347.6 653.9,345.7 655.9,341.6 661.4,328.7 667.4,316.2 671.2,309.6 672.7,307.7 674.2,306.3 676.7,304.7 679.4,303.5 681.7,303.1 683.9,303.4 686.9,304.3 689.7,305.7 693.7,308.4 696.4,310.8 698.2,312.8 699.7,314.9 713.7,337.3 716.4,342.1 720.2,349.9 736.4,386.7 741.9,397.5 743.9,400.6 745.2,401.7 745.9,402.0 746.4,401.9 748.2,401.2 752.7,398.7 757.2,397.0 760.2,396.2 762.4,396.4 764.4,397.2 767.7,399.1 769.7,400.5 771.7,402.2 773.7,404.3 775.2,406.2 776.4,408.2 777.7,410.8 781.9,421.7 788.2,439.5 792.2,452.0 794.9,462.4 809.2,533.0 814.9,564.9 822.4,600.0 L822.4,600.0 L106.4,600.0Z" fill="url(#g1)"/>
<path d="M364.4,213.4 366.9,214.3 370.2,214.0 373.2,213.5 376.9,212.6 380.7,211.2 396.7,203.3 406.9,198.8 410.7,197.9 416.7,197.1 420.2,197.1 423.2,197.4 426.2,198.3 428.9,199.6 431.7,201.5 434.4,204.0 438.4,208.4 446.9,219.2 454.2,227.8 458.2,232.2 461.4,235.1 463.9,236.9 467.2,238.9 480.9,246.4 484.2,248.7 491.9,254.7 495.7,257.4 501.4,261.0 505.9,263.4 508.2,264.1 510.2,264.3 512.4,264.2 515.4,263.7 519.4,262.5 531.9,257.6 542.9,253.8 545.9,253.1 549.2,252.6 552.4,252.4 555.2,252.5 558.7,253.1 561.9,254.1 571.2,258.4 583.9,264.6 588.2,266.3 595.4,268.6 602.7,269.3 605.4,269.9 608.4,271.1 612.2,273.4 615.7,276.1 619.2,280.0 622.4,284.8 625.9,291.3 630.4,301.2 636.2,315.5 639.4,324.2 643.9,337.8 645.9,343.3 647.9,347.3 648.9,348.5 649.7,349.0 650.7,349.1 651.7,348.6 652.7,347.6 653.9,345.7 655.9,341.6 661.4,328.7 667.4,316.2 671.2,309.6 672.7,307.7 674.2,306.3 676.7,304.7 679.4,303.5 681.7,303.1 683.9,303.4 686.9,304.3 689.7,305.7 693.7,308.4 696.4,310.8 698.2,312.8 699.7,314.9 713.7,337.3 716.4,342.1 720.2,349.9 736.4,386.7 741.9,397.5 743.9,400.6 745.2,401.7 745.9,402.0 746.4,401.9 748.2,401.2 752.7,398.7 757.2,397.0 760.2,396.2 762.4,396.4 764.4,397.2 767.7,399.1 769.7,400.5 771.7,402.2 773.7,404.3 775.2,406.2 776.4,408.2 777.7,410.8 781.9,421.7 788.2,439.5 792.2,452.0 794.9,462.4 809.2,533.0 814.9,564.9 822.4,600.0" fill="none" stroke="#081004" stroke-width="0.75" stroke-opacity="0.85" stroke-linejoin="round"/>
<path d="M101.4,462.8 113.9,444.8 123.6,428.8 132.1,415.3 140.6,402.2 147.9,391.6 154.1,383.8 161.1,376.3 167.9,369.8 174.4,365.4 176.1,363.8 177.9,361.8 183.1,354.2 196.9,332.4 200.6,326.1 210.4,308.6 214.6,301.7 218.6,295.6 222.6,290.4 227.4,285.0 233.6,278.7 239.9,273.2 245.4,269.1 254.9,264.1 258.9,261.5 263.1,257.7 274.6,246.8 282.4,239.7 287.6,235.1 291.4,232.2 294.1,230.3 297.1,228.7 303.4,223.8 313.1,219.4 322.4,217.1 328.9,216.0 351.9,214.6 363.6,213.5 365.4,213.6 367.4,214.3 373.1,213.5 376.9,212.6 380.6,211.2 396.4,203.5 406.9,198.8 410.6,197.9 416.6,197.1 419.9,197.1 423.1,197.4 426.1,198.3 428.4,199.2 429.4,199.9 435.1,207.5 438.4,212.3 441.1,217.0 451.9,237.9 454.6,242.2 458.1,246.7 461.6,250.6 468.1,257.1 471.9,260.6 478.4,266.1 481.4,269.0 488.4,277.0 495.4,286.1 498.6,290.0 502.9,294.2 504.9,295.8 506.4,296.7 508.6,297.6 511.1,298.0 513.9,297.7 517.4,296.8 519.6,295.9 521.6,294.8 531.1,288.5 536.1,285.9 541.1,283.5 544.6,282.2 548.6,281.0 553.1,280.0 556.1,279.8 558.9,280.2 561.9,281.5 570.4,286.2 584.4,294.6 587.1,295.9 589.9,297.0 593.1,297.8 595.6,297.9 597.9,297.6 603.6,296.3 608.1,296.1 610.1,296.3 611.9,296.7 613.4,297.3 614.6,298.1 617.1,300.5 619.9,304.2 624.9,311.9 628.4,318.1 632.4,326.5 638.6,340.9 647.9,363.8 650.1,368.0 651.1,369.2 652.1,369.9 653.1,370.0 654.4,369.5 655.6,368.3 657.1,366.3 659.9,361.5 666.6,347.7 670.1,341.4 674.6,334.6 676.9,331.9 678.6,330.3 680.6,329.0 682.9,328.2 685.4,327.9 687.6,328.1 689.9,328.8 691.9,329.9 694.1,331.6 696.6,333.9 699.1,336.8 701.1,339.9 707.9,353.4 724.4,389.3 736.9,419.4 740.9,427.4 743.1,431.4 744.4,433.2 745.4,434.1 746.4,434.8 747.4,435.0 748.4,434.8 750.4,433.4 754.6,429.6 759.6,426.4 761.6,425.3 763.4,424.7 764.9,424.4 766.4,424.3 768.4,424.7 770.6,425.5 774.4,427.1 776.6,428.4 779.4,430.4 781.9,432.6 783.1,434.2 784.1,436.1 785.4,439.5 788.1,449.8 794.9,476.7 799.1,494.9 821.1,604.5 L821.1,604.5 L101.4,604.5Z" fill="url(#g2)"/>
<path d="M426.1,198.3 428.4,199.2 429.4,199.9 435.1,207.5 438.4,212.3 441.1,217.0 451.9,237.9 454.6,242.2 458.1,246.7 461.6,250.6 468.1,257.1 471.9,260.6 478.4,266.1 481.4,269.0 488.4,277.0 495.4,286.1 498.6,290.0 502.9,294.2 504.9,295.8 506.4,296.7 508.6,297.6 511.1,298.0 513.9,297.7 517.4,296.8 519.6,295.9 521.6,294.8 531.1,288.5 536.1,285.9 541.1,283.5 544.6,282.2 548.6,281.0 553.1,280.0 556.1,279.8 558.9,280.2 561.9,281.5 570.4,286.2 584.4,294.6 587.1,295.9 589.9,297.0 593.1,297.8 595.6,297.9 597.9,297.6 603.6,296.3 608.1,296.1 610.1,296.3 611.9,296.7 613.4,297.3 614.6,298.1 617.1,300.5 619.9,304.2 624.9,311.9 628.4,318.1 632.4,326.5 638.6,340.9 647.9,363.8 650.1,368.0 651.1,369.2 652.1,369.9 653.1,370.0 654.4,369.5 655.6,368.3 657.1,366.3 659.9,361.5 666.6,347.7 670.1,341.4 674.6,334.6 676.9,331.9 678.6,330.3 680.6,329.0 682.9,328.2 685.4,327.9 687.6,328.1 689.9,328.8 691.9,329.9 694.1,331.6 696.6,333.9 699.1,336.8 701.1,339.9 707.9,353.4 724.4,389.3 736.9,419.4 740.9,427.4 743.1,431.4 744.4,433.2 745.4,434.1 746.4,434.8 747.4,435.0 748.4,434.8 750.4,433.4 754.6,429.6 759.6,426.4 761.6,425.3 763.4,424.7 764.9,424.4 766.4,424.3 768.4,424.7 770.6,425.5 774.4,427.1 776.6,428.4 779.4,430.4 781.9,432.6 783.1,434.2 784.1,436.1 785.4,439.5 788.1,449.8 794.9,476.7 799.1,494.9 821.1,604.5" fill="none" stroke="#081004" stroke-width="0.75" stroke-opacity="0.85" stroke-linejoin="round"/>
<path d="M96.3,470.0 113.5,445.3 124.0,428.1 135.0,410.8 143.0,398.6 148.8,390.4 154.3,383.6 160.3,377.1 168.0,369.7 173.5,366.0 175.5,364.4 177.3,362.5 179.8,359.1 184.0,352.7 198.5,329.7 208.0,312.6 213.3,303.8 218.3,296.1 222.3,290.8 226.0,286.4 231.3,281.0 236.3,276.3 241.0,272.2 245.8,268.8 256.3,263.3 260.3,260.2 267.8,253.3 274.3,245.1 284.3,236.0 289.5,231.6 292.5,229.3 295.8,227.4 299.8,225.4 305.3,223.0 307.8,222.3 310.8,221.8 319.3,221.3 323.8,221.3 327.8,221.7 342.3,224.7 361.3,229.1 365.5,229.6 369.3,229.5 373.5,228.6 378.3,227.1 384.5,224.7 397.0,219.4 403.8,217.1 408.3,215.9 412.8,215.0 414.8,214.9 417.0,215.2 424.0,217.3 426.0,218.2 428.0,219.4 430.0,221.1 431.8,222.9 433.5,225.2 435.5,228.3 439.5,235.8 443.5,244.5 446.0,250.8 451.8,266.6 457.0,280.1 465.8,300.1 471.3,313.2 474.3,318.3 481.3,328.5 493.5,348.5 503.3,363.8 506.3,367.9 507.5,369.1 508.5,369.8 509.5,370.2 510.5,370.3 511.5,369.9 512.5,369.1 514.3,367.2 518.3,361.7 520.0,359.7 532.8,347.0 537.8,342.5 542.0,339.0 545.3,337.0 549.5,335.4 554.0,334.2 557.8,334.0 560.5,334.4 563.3,335.3 566.0,336.8 568.8,338.8 572.5,342.4 579.8,351.5 584.3,356.3 587.8,359.3 589.3,360.1 590.8,360.6 592.0,360.7 593.5,360.4 595.0,359.6 596.5,358.6 601.3,354.6 608.0,347.7 610.8,345.8 612.8,345.1 615.0,344.9 617.8,345.3 620.0,346.2 621.8,347.6 623.3,349.3 643.3,377.4 647.3,382.6 652.3,388.5 654.0,389.9 655.8,390.7 657.3,391.0 658.5,390.9 660.5,390.3 662.5,389.3 667.3,386.1 673.0,380.9 675.3,379.1 678.0,377.6 681.0,376.7 683.0,376.4 684.5,376.4 686.3,376.7 688.3,377.3 690.3,378.2 692.5,379.5 696.0,382.4 698.5,385.2 701.8,389.8 705.0,394.9 708.3,400.7 717.0,417.9 728.3,443.1 736.8,460.9 740.5,467.5 742.5,470.4 744.8,473.3 746.0,474.5 747.3,475.5 748.5,476.0 749.8,476.0 751.3,475.5 756.3,472.9 762.3,470.2 765.0,469.5 767.0,469.6 769.3,470.5 775.0,473.3 779.0,475.7 783.3,479.2 784.3,480.4 785.5,482.5 787.5,486.9 790.0,493.7 792.3,500.8 794.3,508.2 816.6,609.0 L816.6,609.0 L96.3,609.0Z" fill="url(#g3)"/>
<path d="M267.8,253.3 274.3,245.1 284.3,236.0 289.5,231.6 292.5,229.3 295.8,227.4 299.8,225.4 305.3,223.0 307.8,222.3 310.8,221.8 319.3,221.3 323.8,221.3 327.8,221.7 342.3,224.7 361.3,229.1 365.5,229.6 369.3,229.5 373.5,228.6 378.3,227.1 384.5,224.7 397.0,219.4 403.8,217.1 408.3,215.9 412.8,215.0 414.8,214.9 417.0,215.2 424.0,217.3 426.0,218.2 428.0,219.4 430.0,221.1 431.8,222.9 433.5,225.2 435.5,228.3 439.5,235.8 443.5,244.5 446.0,250.8 451.8,266.6 457.0,280.1 465.8,300.1 471.3,313.2 474.3,318.3 481.3,328.5 493.5,348.5 503.3,363.8 506.3,367.9 507.5,369.1 508.5,369.8 509.5,370.2 510.5,370.3 511.5,369.9 512.5,369.1 514.3,367.2 518.3,361.7 520.0,359.7 532.8,347.0 537.8,342.5 542.0,339.0 545.3,337.0 549.5,335.4 554.0,334.2 557.8,334.0 560.5,334.4 563.3,335.3 566.0,336.8 568.8,338.8 572.5,342.4 579.8,351.5 584.3,356.3 587.8,359.3 589.3,360.1 590.8,360.6 592.0,360.7 593.5,360.4 595.0,359.6 596.5,358.6 601.3,354.6 608.0,347.7 610.8,345.8 612.8,345.1 615.0,344.9 617.8,345.3 620.0,346.2 621.8,347.6 623.3,349.3 643.3,377.4 647.3,382.6 652.3,388.5 654.0,389.9 655.8,390.7 657.3,391.0 658.5,390.9 660.5,390.3 662.5,389.3 667.3,386.1 673.0,380.9 675.3,379.1 678.0,377.6 681.0,376.7 683.0,376.4 684.5,376.4 686.3,376.7 688.3,377.3 690.3,378.2 692.5,379.5 696.0,382.4 698.5,385.2 701.8,389.8 705.0,394.9 708.3,400.7 717.0,417.9 728.3,443.1 736.8,460.9 740.5,467.5 742.5,470.4 744.8,473.3 746.0,474.5 747.3,475.5 748.5,476.0 749.8,476.0 751.3,475.5 756.3,472.9 762.3,470.2 765.0,469.5 767.0,469.6 769.3,470.5 775.0,473.3 779.0,475.7 783.3,479.2 784.3,480.4 785.5,482.5 787.5,486.9 790.0,493.7 792.3,500.8 794.3,508.2 816.6,609.0" fill="none" stroke="#081004" stroke-width="0.75" stroke-opacity="0.85" stroke-linejoin="round"/>
<path d="M91.2,477.3 113.7,445.1 124.0,428.2 134.2,412.0 142.2,399.8 148.5,390.8 154.0,384.0 160.2,377.2 168.0,369.7 173.7,365.9 175.7,364.2 177.5,362.3 180.0,358.9 184.5,352.1 198.2,330.2 208.2,312.3 214.5,301.9 219.2,294.8 223.0,290.0 229.2,281.2 231.0,279.3 236.0,274.6 243.5,268.4 247.0,266.1 255.5,261.8 259.0,259.4 264.0,254.9 274.0,245.4 276.5,243.4 279.2,241.8 282.5,240.5 294.7,237.1 299.2,236.2 302.7,235.8 306.2,235.9 310.0,236.4 314.2,237.3 319.7,239.0 326.2,241.6 332.2,244.3 338.2,247.5 343.5,250.6 346.2,252.5 357.0,261.7 361.2,264.9 363.7,266.4 366.0,267.6 368.0,268.3 370.0,268.6 372.5,268.5 375.5,268.0 378.5,267.2 381.7,266.0 388.0,263.3 401.5,256.5 407.0,254.3 411.0,253.2 415.5,252.3 417.5,252.1 419.7,252.4 423.2,253.4 427.5,255.5 430.5,257.6 433.2,260.2 436.2,263.9 439.5,268.7 442.5,274.0 445.7,280.6 450.0,290.3 454.0,300.6 457.2,310.1 460.7,321.8 465.7,339.8 470.0,356.2 473.0,368.6 477.5,390.0 478.7,395.0 480.0,398.8 481.5,401.7 484.0,405.2 487.7,409.3 493.7,415.1 495.7,417.7 497.5,420.5 501.0,427.5 507.7,444.5 513.7,458.1 515.2,461.0 516.5,463.0 518.0,464.9 519.7,466.6 521.5,467.9 523.0,468.3 524.7,467.8 526.7,466.5 528.5,464.7 530.0,462.7 536.7,451.8 540.0,447.1 544.0,441.9 547.7,437.6 550.2,435.3 552.7,433.7 555.7,432.7 559.0,432.3 561.2,432.5 563.2,433.1 565.2,434.3 567.0,436.0 570.2,440.0 574.0,445.5 576.7,449.9 581.7,458.9 583.5,461.6 584.7,463.0 586.2,464.3 587.7,465.1 588.7,465.1 589.5,464.7 590.2,463.9 591.5,461.6 595.5,451.6 602.0,434.3 604.5,428.7 606.2,425.6 608.2,422.6 610.5,420.0 612.7,417.9 614.0,417.1 615.2,416.6 616.5,416.4 617.7,416.5 621.5,417.5 625.5,418.9 631.0,421.8 633.2,422.4 635.5,422.0 641.0,419.9 647.0,418.3 649.7,417.9 650.7,418.0 652.0,418.5 654.0,419.9 656.7,422.4 663.5,430.1 666.2,432.8 673.5,439.1 680.2,444.0 682.7,446.4 685.2,449.4 688.2,453.7 696.2,466.8 698.7,471.4 700.7,476.2 708.2,499.5 720.0,530.6 726.5,545.6 728.5,548.9 730.5,550.9 732.2,551.9 733.2,552.1 734.0,552.0 735.0,551.6 735.7,550.9 737.2,548.9 739.5,543.9 745.5,529.3 749.7,519.7 754.0,510.8 756.0,507.7 757.2,506.5 758.5,505.7 759.7,505.3 761.0,505.3 762.5,505.6 764.0,506.3 765.5,507.5 766.7,508.9 769.0,512.2 773.5,520.9 776.0,526.3 780.0,536.1 781.7,539.8 783.5,542.6 787.2,547.1 791.0,552.4 792.7,555.3 794.2,558.5 795.7,562.5 797.5,568.0 810.5,613.5 L810.5,613.5 L91.2,613.5Z" fill="url(#g4)"/>
<path d="M223.0,290.0 229.2,281.2 231.0,279.3 236.0,274.6 243.5,268.4 247.0,266.1 255.5,261.8 259.0,259.4 264.0,254.9 274.0,245.4 276.5,243.4 279.2,241.8 282.5,240.5 294.7,237.1 299.2,236.2 302.7,235.8 306.2,235.9 310.0,236.4 314.2,237.3 319.7,239.0 326.2,241.6 332.2,244.3 338.2,247.5 343.5,250.6 346.2,252.5 357.0,261.7 361.2,264.9 363.7,266.4 366.0,267.6 368.0,268.3 370.0,268.6 372.5,268.5 375.5,268.0 378.5,267.2 381.7,266.0 388.0,263.3 401.5,256.5 407.0,254.3 411.0,253.2 415.5,252.3 417.5,252.1 419.7,252.4 423.2,253.4 427.5,255.5 430.5,257.6 433.2,260.2 436.2,263.9 439.5,268.7 442.5,274.0 445.7,280.6 450.0,290.3 454.0,300.6 457.2,310.1 460.7,321.8 465.7,339.8 470.0,356.2 473.0,368.6 477.5,390.0 478.7,395.0 480.0,398.8 481.5,401.7 484.0,405.2 487.7,409.3 493.7,415.1 495.7,417.7 497.5,420.5 501.0,427.5 507.7,444.5 513.7,458.1 515.2,461.0 516.5,463.0 518.0,464.9 519.7,466.6 521.5,467.9 523.0,468.3 524.7,467.8 526.7,466.5 528.5,464.7 530.0,462.7 536.7,451.8 540.0,447.1 544.0,441.9 547.7,437.6 550.2,435.3 552.7,433.7 555.7,432.7 559.0,432.3 561.2,432.5 563.2,433.1 565.2,434.3 567.0,436.0 570.2,440.0 574.0,445.5 576.7,449.9 581.7,458.9 583.5,461.6 584.7,463.0 586.2,464.3 587.7,465.1 588.7,465.1 589.5,464.7 590.2,463.9 591.5,461.6 595.5,451.6 602.0,434.3 604.5,428.7 606.2,425.6 608.2,422.6 610.5,420.0 612.7,417.9 614.0,417.1 615.2,416.6 616.5,416.4 617.7,416.5 621.5,417.5 625.5,418.9 631.0,421.8 633.2,422.4 635.5,422.0 641.0,419.9 647.0,418.3 649.7,417.9 650.7,418.0 652.0,418.5 654.0,419.9 656.7,422.4 663.5,430.1 666.2,432.8 673.5,439.1 680.2,444.0 682.7,446.4 685.2,449.4 688.2,453.7 696.2,466.8 698.7,471.4 700.7,476.2 708.2,499.5 720.0,530.6 726.5,545.6 728.5,548.9 730.5,550.9 732.2,551.9 733.2,552.1 734.0,552.0 735.0,551.6 735.7,550.9 737.2,548.9 739.5,543.9 745.5,529.3 749.7,519.7 754.0,510.8 756.0,507.7 757.2,506.5 758.5,505.7 759.7,505.3 761.0,505.3 762.5,505.6 764.0,506.3 765.5,507.5 766.7,508.9 769.0,512.2 773.5,520.9 776.0,526.3 780.0,536.1 781.7,539.8 783.5,542.6 787.2,547.1 791.0,552.4 792.7,555.3 794.2,558.5 795.7,562.5 797.5,568.0 810.5,613.5" fill="none" stroke="#081004" stroke-width="0.75" stroke-opacity="0.85" stroke-linejoin="round"/>
<path d="M86.1,484.6 113.4,445.5 123.9,428.3 134.4,411.8 142.4,399.5 148.4,390.9 153.9,384.0 160.1,377.2 168.1,369.6 173.6,365.9 175.4,364.5 177.4,362.4 179.9,359.0 184.1,352.6 198.1,330.3 205.1,315.8 208.9,309.1 213.4,301.6 220.1,291.5 223.4,287.4 226.6,283.8 230.9,279.4 234.9,276.2 239.1,273.6 243.4,271.9 259.4,267.6 273.1,262.4 278.4,260.9 282.1,260.3 287.9,259.9 291.9,260.0 295.4,260.5 299.6,261.8 304.1,263.7 308.9,266.2 313.1,269.0 317.6,272.7 322.4,277.1 326.6,281.6 331.1,287.0 338.4,296.9 344.6,306.8 350.9,318.4 359.4,337.4 363.4,345.4 366.1,350.1 368.9,354.3 370.1,355.7 371.6,356.6 373.4,356.7 375.4,355.8 377.6,354.4 379.9,352.2 382.9,348.0 391.6,333.9 399.9,322.4 403.6,317.7 406.6,314.3 409.9,311.1 413.1,308.5 417.6,305.6 420.6,304.1 424.1,303.0 428.1,302.4 431.1,302.5 434.1,303.2 437.1,304.6 440.1,306.7 442.9,309.4 445.6,312.8 448.6,317.2 451.6,322.3 454.6,327.9 457.4,333.7 462.9,347.0 467.1,358.9 471.9,374.2 475.6,387.3 482.1,411.7 485.1,422.0 490.6,438.9 493.6,446.6 495.1,449.4 496.4,450.9 497.9,451.8 500.9,452.2 502.4,452.8 507.1,456.8 508.6,458.6 510.4,461.3 515.1,469.5 525.9,490.8 540.1,521.5 542.1,525.0 544.4,527.9 547.1,530.4 550.6,532.5 553.9,533.7 557.1,534.2 561.9,533.8 567.1,532.5 571.4,530.8 572.9,529.9 574.4,528.6 575.9,527.0 577.4,524.8 580.4,518.7 583.9,509.7 593.4,483.4 597.1,474.3 600.4,467.6 601.6,465.6 602.9,464.1 604.1,463.0 605.6,462.1 607.6,461.3 610.4,460.6 611.9,460.6 613.1,460.9 614.1,461.6 615.1,462.6 617.9,466.9 624.1,478.5 632.6,495.4 634.6,498.7 636.1,500.4 637.4,501.1 638.6,501.1 645.4,497.8 652.4,495.1 653.6,495.1 654.6,495.4 655.6,496.0 656.6,497.1 658.4,499.9 662.4,508.3 666.9,518.7 674.4,536.8 675.9,539.5 677.4,541.4 678.9,542.4 680.6,542.6 689.1,540.7 696.4,540.0 697.6,540.3 698.6,541.3 699.4,542.8 700.1,545.0 715.4,598.7 721.8,618.0 L721.8,618.0 L86.1,618.0Z" fill="url(#g5)"/>
<path d="M198.1,330.3 205.1,315.8 208.9,309.1 213.4,301.6 220.1,291.5 223.4,287.4 226.6,283.8 230.9,279.4 234.9,276.2 239.1,273.6 243.4,271.9 259.4,267.6 273.1,262.4 278.4,260.9 282.1,260.3 287.9,259.9 291.9,260.0 295.4,260.5 299.6,261.8 304.1,263.7 308.9,266.2 313.1,269.0 317.6,272.7 322.4,277.1 326.6,281.6 331.1,287.0 338.4,296.9 344.6,306.8 350.9,318.4 359.4,337.4 363.4,345.4 366.1,350.1 368.9,354.3 370.1,355.7 371.6,356.6 373.4,356.7 375.4,355.8 377.6,354.4 379.9,352.2 382.9,348.0 391.6,333.9 399.9,322.4 403.6,317.7 406.6,314.3 409.9,311.1 413.1,308.5 417.6,305.6 420.6,304.1 424.1,303.0 428.1,302.4 431.1,302.5 434.1,303.2 437.1,304.6 440.1,306.7 442.9,309.4 445.6,312.8 448.6,317.2 451.6,322.3 454.6,327.9 457.4,333.7 462.9,347.0 467.1,358.9 471.9,374.2 475.6,387.3 482.1,411.7 485.1,422.0 490.6,438.9 493.6,446.6 495.1,449.4 496.4,450.9 497.9,451.8 500.9,452.2 502.4,452.8 507.1,456.8 508.6,458.6 510.4,461.3 515.1,469.5 525.9,490.8 540.1,521.5 542.1,525.0 544.4,527.9 547.1,530.4 550.6,532.5 553.9,533.7 557.1,534.2 561.9,533.8 567.1,532.5 571.4,530.8 572.9,529.9 574.4,528.6 575.9,527.0 577.4,524.8 580.4,518.7 583.9,509.7 593.4,483.4 597.1,474.3 600.4,467.6 601.6,465.6 602.9,464.1 604.1,463.0 605.6,462.1 607.6,461.3 610.4,460.6 611.9,460.6 613.1,460.9 614.1,461.6 615.1,462.6 617.9,466.9 624.1,478.5 632.6,495.4 634.6,498.7 636.1,500.4 637.4,501.1 638.6,501.1 645.4,497.8 652.4,495.1 653.6,495.1 654.6,495.4 655.6,496.0 656.6,497.1 658.4,499.9 662.4,508.3 666.9,518.7 674.4,536.8 675.9,539.5 677.4,541.4 678.9,542.4 680.6,542.6 689.1,540.7 696.4,540.0 697.6,540.3 698.6,541.3 699.4,542.8 700.1,545.0 715.4,598.7 721.8,618.0" fill="none" stroke="#081004" stroke-width="0.75" stroke-opacity="0.85" stroke-linejoin="round"/>
<path d="M742.0,618.0 755.1,571.8 757.6,564.3 760.9,557.2 762.1,554.9 763.4,553.1 764.6,551.8 765.9,550.9 767.4,550.2 768.9,550.0 769.9,550.1 770.9,550.4 772.6,551.8 774.6,554.9 777.1,559.5 779.6,565.1 792.9,598.1 798.6,609.4 802.4,618.0 L802.4,618.0 L742.0,618.0Z" fill="url(#g5)"/>
<path d="M742.0,618.0 755.1,571.8 757.6,564.3 760.9,557.2 762.1,554.9 763.4,553.1 764.6,551.8 765.9,550.9 767.4,550.2 768.9,550.0 769.9,550.1 770.9,550.4 772.6,551.8 774.6,554.9 777.1,559.5 779.6,565.1 792.9,598.1 798.6,609.4 802.4,618.0" fill="none" stroke="#081004" stroke-width="0.75" stroke-opacity="0.85" stroke-linejoin="round"/>
<path d="M81.1,491.8 113.8,444.9 123.8,428.4 133.6,413.0 140.3,400.7 147.8,389.6 153.1,383.0 159.6,375.8 167.8,367.9 173.6,364.0 175.6,362.3 177.6,360.1 180.3,356.4 184.6,349.9 198.1,328.4 201.8,321.9 210.8,305.3 212.1,303.4 213.3,302.0 215.1,300.7 217.3,299.7 222.8,298.0 226.6,297.4 231.3,297.7 238.3,298.8 240.8,299.5 247.3,301.7 251.1,302.3 255.1,301.9 262.1,300.1 265.6,299.4 278.6,297.3 281.1,297.3 283.8,297.5 289.1,298.2 291.8,298.8 293.8,299.6 295.8,300.6 299.8,304.0 305.1,309.4 316.8,322.3 322.3,328.9 324.8,332.3 334.6,348.3 337.8,353.2 340.3,356.0 345.6,360.8 348.1,363.8 349.8,366.6 351.8,370.5 358.3,385.3 361.1,391.0 372.6,413.1 374.8,416.9 376.6,419.3 378.3,421.1 379.8,421.9 381.1,422.0 382.6,421.2 384.1,419.6 385.6,417.3 388.8,411.2 398.6,390.7 405.1,379.2 410.3,370.8 413.8,365.8 417.3,361.5 420.8,357.8 424.3,354.7 428.6,352.0 432.8,350.3 434.6,349.9 436.6,349.8 438.6,349.9 440.6,350.2 442.8,350.9 445.1,351.8 447.3,353.0 449.6,354.5 453.6,357.9 457.6,362.5 463.1,370.4 468.6,379.8 475.1,392.5 481.8,407.0 484.8,414.1 487.3,420.8 499.8,458.0 501.1,462.9 503.8,478.8 505.1,484.6 513.3,509.0 522.8,539.7 525.6,549.9 531.3,573.2 538.6,599.5 544.5,622.5 L544.5,622.5 L81.1,622.5Z" fill="url(#g6)"/>
<path d="M133.6,413.0 140.3,400.7 147.8,389.6 153.1,383.0 159.6,375.8 167.8,367.9 173.6,364.0 175.6,362.3 177.6,360.1 180.3,356.4 184.6,349.9 198.1,328.4 201.8,321.9 210.8,305.3 212.1,303.4 213.3,302.0 215.1,300.7 217.3,299.7 222.8,298.0 226.6,297.4 231.3,297.7 238.3,298.8 240.8,299.5 247.3,301.7 251.1,302.3 255.1,301.9 262.1,300.1 265.6,299.4 278.6,297.3 281.1,297.3 283.8,297.5 289.1,298.2 291.8,298.8 293.8,299.6 295.8,300.6 299.8,304.0 305.1,309.4 316.8,322.3 322.3,328.9 324.8,332.3 334.6,348.3 337.8,353.2 340.3,356.0 345.6,360.8 348.1,363.8 349.8,366.6 351.8,370.5 358.3,385.3 361.1,391.0 372.6,413.1 374.8,416.9 376.6,419.3 378.3,421.1 379.8,421.9 381.1,422.0 382.6,421.2 384.1,419.6 385.6,417.3 388.8,411.2 398.6,390.7 405.1,379.2 410.3,370.8 413.8,365.8 417.3,361.5 420.8,357.8 424.3,354.7 428.6,352.0 432.8,350.3 434.6,349.9 436.6,349.8 438.6,349.9 440.6,350.2 442.8,350.9 445.1,351.8 447.3,353.0 449.6,354.5 453.6,357.9 457.6,362.5 463.1,370.4 468.6,379.8 475.1,392.5 481.8,407.0 484.8,414.1 487.3,420.8 499.8,458.0 501.1,462.9 503.8,478.8 505.1,484.6 513.3,509.0 522.8,539.7 525.6,549.9 531.3,573.2 538.6,599.5 544.5,622.5" fill="none" stroke="#081004" stroke-width="0.75" stroke-opacity="0.85" stroke-linejoin="round"/>
<path d="M559.1,622.5 570.3,583.9 580.1,551.9 587.8,528.8 592.1,517.6 594.3,512.6 596.6,508.4 598.8,505.0 601.3,501.9 604.3,499.2 607.6,497.1 610.6,495.7 613.3,495.2 615.3,495.5 617.3,496.4 619.3,497.8 621.3,499.7 623.8,503.0 628.6,511.1 630.3,513.7 634.6,518.9 637.8,522.1 639.8,523.5 641.8,524.5 648.8,526.6 654.3,528.8 656.8,530.5 658.8,532.7 661.6,537.9 668.1,552.2 670.8,559.0 672.6,564.5 676.6,580.2 679.6,589.9 682.8,598.7 684.1,601.2 685.3,603.0 686.6,604.2 687.6,604.8 688.6,604.8 689.8,604.1 691.1,603.1 692.3,601.8 696.6,595.5 699.6,592.2 701.3,590.8 702.6,590.2 703.8,590.0 704.8,590.4 706.1,591.5 707.3,593.2 709.1,596.2 710.6,599.2 719.4,622.5 L719.4,622.5 L559.1,622.5Z" fill="url(#g6)"/>
<path d="M559.1,622.5 570.3,583.9 580.1,551.9 587.8,528.8 592.1,517.6 594.3,512.6 596.6,508.4 598.8,505.0 601.3,501.9 604.3,499.2 607.6,497.1 610.6,495.7 613.3,495.2 615.3,495.5 617.3,496.4 619.3,497.8 621.3,499.7 623.8,503.0 628.6,511.1 630.3,513.7 634.6,518.9 637.8,522.1 639.8,523.5 641.8,524.5 648.8,526.6 654.3,528.8 656.8,530.5 658.8,532.7 661.6,537.9 668.1,552.2 670.8,559.0 672.6,564.5 676.6,580.2 679.6,589.9 682.8,598.7 684.1,601.2 685.3,603.0 686.6,604.2 687.6,604.8 688.6,604.8 689.8,604.1 691.1,603.1 692.3,601.8 696.6,595.5 699.6,592.2 701.3,590.8 702.6,590.2 703.8,590.0 704.8,590.4 706.1,591.5 707.3,593.2 709.1,596.2 710.6,599.2 719.4,622.5" fill="none" stroke="#081004" stroke-width="0.75" stroke-opacity="0.85" stroke-linejoin="round"/>
<path d="M760.5,622.5 766.1,608.9 768.6,603.9 770.3,601.1 771.8,599.0 773.1,598.1 774.6,597.6 776.1,597.9 777.3,598.4 778.3,599.2 779.3,600.5 781.1,603.6 786.1,613.7 791.0,622.5 L791.0,622.5 L760.5,622.5Z" fill="url(#g6)"/>
<path d="M760.5,622.5 766.1,608.9 768.6,603.9 770.3,601.1 771.8,599.0 773.1,598.1 774.6,597.6 776.1,597.9 777.3,598.4 778.3,599.2 779.3,600.5 781.1,603.6 786.1,613.7 791.0,622.5" fill="none" stroke="#081004" stroke-width="0.75" stroke-opacity="0.85" stroke-linejoin="round"/>
<path d="M76.0,499.1 90.5,478.3 97.8,465.9 114.0,442.6 123.5,426.9 129.2,417.8 139.5,401.9 143.0,397.0 146.5,393.2 148.2,391.9 150.0,390.8 154.8,388.6 160.5,386.4 175.8,381.2 177.5,380.2 179.5,378.5 182.5,375.1 185.2,370.8 188.5,364.6 192.8,355.1 195.5,350.0 198.5,345.1 201.5,340.8 204.2,337.3 206.8,334.7 209.2,332.6 211.0,331.5 213.0,330.5 214.8,329.9 216.8,329.5 219.0,329.4 221.5,329.5 223.5,329.9 225.2,330.5 227.2,331.5 229.2,333.1 237.2,341.3 243.2,346.4 247.5,349.2 249.2,350.0 251.0,350.4 253.2,350.5 255.5,350.1 267.5,346.1 273.2,344.5 278.0,343.5 280.5,343.3 283.0,343.4 288.8,344.5 292.2,345.7 296.0,347.4 300.5,350.1 305.0,353.2 312.8,359.4 322.0,368.7 325.0,371.1 328.0,373.1 331.0,374.6 333.8,375.7 341.5,377.1 344.8,378.0 348.8,379.8 352.8,382.4 356.0,384.9 359.2,387.8 369.8,399.5 375.0,404.8 379.8,409.3 382.2,411.4 385.0,413.3 388.0,415.0 390.5,416.1 395.0,417.5 399.0,418.3 402.0,418.2 404.8,417.5 407.2,416.5 410.0,414.9 420.8,406.9 427.8,402.3 430.0,401.3 432.2,400.7 435.5,400.1 438.2,399.9 441.8,400.1 445.8,400.8 450.0,402.2 454.2,404.0 458.2,406.2 462.5,409.1 465.2,411.4 468.2,414.5 472.0,419.0 475.5,424.1 478.2,428.8 482.8,437.4 486.2,444.8 494.8,464.0 501.5,479.9 504.0,486.4 522.2,545.7 529.0,573.1 536.8,601.3 541.0,619.6 543.2,627.0 L543.2,627.0 L76.0,627.0Z" fill="url(#g7)"/>
<path d="M90.5,478.3 97.8,465.9 114.0,442.6 123.5,426.9 129.2,417.8 139.5,401.9 143.0,397.0 146.5,393.2 148.2,391.9 150.0,390.8 154.8,388.6 160.5,386.4 175.8,381.2 177.5,380.2 179.5,378.5 182.5,375.1 185.2,370.8 188.5,364.6 192.8,355.1 195.5,350.0 198.5,345.1 201.5,340.8 204.2,337.3 206.8,334.7 209.2,332.6 211.0,331.5 213.0,330.5 214.8,329.9 216.8,329.5 219.0,329.4 221.5,329.5 223.5,329.9 225.2,330.5 227.2,331.5 229.2,333.1 237.2,341.3 243.2,346.4 247.5,349.2 249.2,350.0 251.0,350.4 253.2,350.5 255.5,350.1 267.5,346.1 273.2,344.5 278.0,343.5 280.5,343.3 283.0,343.4 288.8,344.5 292.2,345.7 296.0,347.4 300.5,350.1 305.0,353.2 312.8,359.4 322.0,368.7 325.0,371.1 328.0,373.1 331.0,374.6 333.8,375.7 341.5,377.1 344.8,378.0 348.8,379.8 352.8,382.4 356.0,384.9 359.2,387.8 369.8,399.5 375.0,404.8 379.8,409.3 382.2,411.4 385.0,413.3 388.0,415.0 390.5,416.1 395.0,417.5 399.0,418.3 402.0,418.2 404.8,417.5 407.2,416.5 410.0,414.9 420.8,406.9 427.8,402.3 430.0,401.3 432.2,400.7 435.5,400.1 438.2,399.9 441.8,400.1 445.8,400.8 450.0,402.2 454.2,404.0 458.2,406.2 462.5,409.1 465.2,411.4 468.2,414.5 472.0,419.0 475.5,424.1 478.2,428.8 482.8,437.4 486.2,444.8 494.8,464.0 501.5,479.9 504.0,486.4 522.2,545.7 529.0,573.1 536.8,601.3 541.0,619.6 543.2,627.0" fill="none" stroke="#081004" stroke-width="0.75" stroke-opacity="0.85" stroke-linejoin="round"/>
<path d="M568.1,627.0 574.8,603.8 581.0,584.5 586.8,568.4 589.5,561.6 592.5,554.8 595.5,548.6 597.8,544.5 600.2,540.6 602.8,537.3 605.5,534.3 608.2,531.9 610.8,530.6 613.0,530.1 614.5,530.3 617.0,531.1 621.5,533.4 625.0,535.9 633.0,542.7 635.8,544.5 638.8,546.1 644.5,548.5 646.5,548.9 651.8,549.4 653.2,549.8 654.8,550.4 658.0,552.8 661.5,556.4 663.2,559.0 665.0,562.2 667.8,568.2 670.2,574.4 672.5,580.7 685.5,619.6 688.2,627.0 L688.2,627.0 L568.1,627.0Z" fill="url(#g7)"/>
<path d="M568.1,627.0 574.8,603.8 581.0,584.5 586.8,568.4 589.5,561.6 592.5,554.8 595.5,548.6 597.8,544.5 600.2,540.6 602.8,537.3 605.5,534.3 608.2,531.9 610.8,530.6 613.0,530.1 614.5,530.3 617.0,531.1 621.5,533.4 625.0,535.9 633.0,542.7 635.8,544.5 638.8,546.1 644.5,548.5 646.5,548.9 651.8,549.4 653.2,549.8 654.8,550.4 658.0,552.8 661.5,556.4 663.2,559.0 665.0,562.2 667.8,568.2 670.2,574.4 672.5,580.7 685.5,619.6 688.2,627.0" fill="none" stroke="#081004" stroke-width="0.75" stroke-opacity="0.85" stroke-linejoin="round"/>
<path d="M698.0,627.0 699.8,625.3 701.2,624.1 703.2,623.3 704.8,623.0 706.5,623.3 709.0,624.2 710.8,625.4 712.4,627.0 L712.4,627.0 L698.0,627.0Z" fill="url(#g7)"/>
<path d="M698.0,627.0 699.8,625.3 701.2,624.1 703.2,623.3 704.8,623.0 706.5,623.3 709.0,624.2 710.8,625.4 712.4,627.0" fill="none" stroke="#081004" stroke-width="0.75" stroke-opacity="0.85" stroke-linejoin="round"/>
<path d="M70.9,506.6 72.9,503.5 94.9,472.0 96.7,467.6 97.2,466.8 98.7,465.5 101.7,464.4 103.2,463.3 111.7,452.0 114.9,448.0 123.4,438.7 126.4,435.7 129.4,433.1 132.7,430.6 135.9,428.5 138.7,427.1 141.7,426.2 144.2,425.8 146.7,425.7 148.9,426.0 155.2,427.2 157.4,427.3 159.9,427.2 163.7,426.6 167.7,425.5 169.4,424.6 171.2,423.2 173.4,420.2 176.7,414.1 180.4,406.1 186.9,391.2 189.9,385.0 193.9,378.0 198.4,371.3 200.7,368.5 202.9,366.1 205.2,364.2 207.2,363.0 209.2,362.2 211.4,361.8 213.9,361.8 216.4,362.3 219.4,363.5 222.4,365.8 225.7,369.4 229.4,374.4 234.4,382.4 239.7,392.3 240.7,394.6 242.9,401.4 243.7,403.0 245.9,406.4 247.2,407.7 248.7,408.8 251.9,410.5 252.9,410.7 253.7,410.6 256.4,409.2 263.2,404.6 267.7,402.3 272.9,400.1 274.9,399.6 277.2,399.2 282.4,399.2 290.2,400.1 295.9,401.5 301.7,403.5 304.2,404.9 306.7,406.7 326.9,425.0 329.4,427.0 330.9,427.7 332.7,428.1 338.7,429.1 344.7,429.7 347.2,430.2 350.4,431.5 353.4,433.4 355.7,435.5 359.7,439.8 369.7,451.9 373.4,456.7 378.4,464.9 380.9,468.1 382.9,470.1 385.2,471.9 387.9,473.5 391.2,475.1 394.7,476.2 397.7,476.5 400.7,475.9 403.9,474.5 406.7,472.5 409.7,469.8 417.4,460.2 421.4,456.3 423.7,454.6 425.9,453.4 428.4,452.5 430.9,452.1 434.2,452.1 439.9,453.2 444.4,454.5 450.4,456.7 455.2,458.8 458.7,460.6 463.9,464.1 467.4,466.8 471.9,471.3 476.2,477.0 480.9,484.6 487.9,497.1 491.4,504.2 495.7,513.7 505.2,536.0 509.2,546.2 511.2,552.1 513.2,559.1 519.2,582.4 522.2,595.0 523.4,601.6 525.4,614.1 527.8,631.5 L527.8,631.5 L70.9,631.5Z" fill="url(#g8)"/>
<path d="M70.9,506.6 72.9,503.5 94.9,472.0 96.7,467.6 97.2,466.8 98.7,465.5 101.7,464.4 103.2,463.3 111.7,452.0 114.9,448.0 123.4,438.7 126.4,435.7 129.4,433.1 132.7,430.6 135.9,428.5 138.7,427.1 141.7,426.2 144.2,425.8 146.7,425.7 148.9,426.0 155.2,427.2 157.4,427.3 159.9,427.2 163.7,426.6 167.7,425.5 169.4,424.6 171.2,423.2 173.4,420.2 176.7,414.1 180.4,406.1 186.9,391.2 189.9,385.0 193.9,378.0 198.4,371.3 200.7,368.5 202.9,366.1 205.2,364.2 207.2,363.0 209.2,362.2 211.4,361.8 213.9,361.8 216.4,362.3 219.4,363.5 222.4,365.8 225.7,369.4 229.4,374.4 234.4,382.4 239.7,392.3 240.7,394.6 242.9,401.4 243.7,403.0 245.9,406.4 247.2,407.7 248.7,408.8 251.9,410.5 252.9,410.7 253.7,410.6 256.4,409.2 263.2,404.6 267.7,402.3 272.9,400.1 274.9,399.6 277.2,399.2 282.4,399.2 290.2,400.1 295.9,401.5 301.7,403.5 304.2,404.9 306.7,406.7 326.9,425.0 329.4,427.0 330.9,427.7 332.7,428.1 338.7,429.1 344.7,429.7 347.2,430.2 350.4,431.5 353.4,433.4 355.7,435.5 359.7,439.8 369.7,451.9 373.4,456.7 378.4,464.9 380.9,468.1 382.9,470.1 385.2,471.9 387.9,473.5 391.2,475.1 394.7,476.2 397.7,476.5 400.7,475.9 403.9,474.5 406.7,472.5 409.7,469.8 417.4,460.2 421.4,456.3 423.7,454.6 425.9,453.4 428.4,452.5 430.9,452.1 434.2,452.1 439.9,453.2 444.4,454.5 450.4,456.7 455.2,458.8 458.7,460.6 463.9,464.1 467.4,466.8 471.9,471.3 476.2,477.0 480.9,484.6 487.9,497.1 491.4,504.2 495.7,513.7 505.2,536.0 509.2,546.2 511.2,552.1 513.2,559.1 519.2,582.4 522.2,595.0 523.4,601.6 525.4,614.1 527.8,631.5" fill="none" stroke="#081004" stroke-width="0.75" stroke-opacity="0.85" stroke-linejoin="round"/>
<path d="M571.3,631.5 577.9,613.4 581.2,605.1 586.2,593.5 590.4,584.7 594.2,578.7 596.2,576.2 598.2,574.0 599.9,572.5 601.4,571.6 603.2,570.9 604.7,570.7 606.7,571.0 609.4,571.9 611.4,573.0 613.2,574.4 634.7,599.4 637.2,601.8 639.4,603.2 640.7,603.4 641.7,603.4 643.2,602.8 644.9,601.9 650.7,598.0 656.9,592.9 659.2,591.5 660.7,591.4 662.7,591.7 665.4,592.8 667.7,594.1 669.7,595.9 671.4,598.0 673.4,601.1 675.7,605.2 681.2,617.1 686.6,631.5 L686.6,631.5 L571.3,631.5Z" fill="url(#g8)"/>
<path d="M571.3,631.5 577.9,613.4 581.2,605.1 586.2,593.5 590.4,584.7 594.2,578.7 596.2,576.2 598.2,574.0 599.9,572.5 601.4,571.6 603.2,570.9 604.7,570.7 606.7,571.0 609.4,571.9 611.4,573.0 613.2,574.4 634.7,599.4 637.2,601.8 639.4,603.2 640.7,603.4 641.7,603.4 643.2,602.8 644.9,601.9 650.7,598.0 656.9,592.9 659.2,591.5 660.7,591.4 662.7,591.7 665.4,592.8 667.7,594.1 669.7,595.9 671.4,598.0 673.4,601.1 675.7,605.2 681.2,617.1 686.6,631.5" fill="none" stroke="#081004" stroke-width="0.75" stroke-opacity="0.85" stroke-linejoin="round"/>
<path d="M66.5,516.6 69.0,515.5 71.0,514.2 78.8,506.5 88.5,497.7 96.8,490.5 103.5,485.2 107.5,482.5 115.5,477.9 120.2,475.5 124.2,473.9 126.2,473.5 128.5,473.4 131.0,473.9 133.8,474.8 138.8,477.0 146.2,481.0 147.8,482.1 151.2,485.5 153.0,486.7 154.0,487.1 154.8,487.1 155.5,486.9 156.5,486.3 158.2,484.3 160.2,481.2 170.5,461.5 187.8,417.9 191.5,409.5 194.0,404.8 196.5,400.8 198.5,398.1 200.2,396.1 202.2,394.5 204.5,393.2 206.8,392.5 209.5,392.2 211.8,392.5 213.5,393.1 215.2,394.2 217.0,395.8 219.0,398.1 223.5,404.7 228.5,413.8 231.0,419.3 240.8,443.6 245.8,458.6 249.5,468.6 251.8,473.1 253.2,475.3 254.8,477.1 256.2,478.5 257.5,479.3 259.5,479.9 261.5,480.2 263.8,480.0 268.2,478.8 270.2,478.5 292.2,479.2 295.5,478.9 302.5,477.8 305.8,477.6 308.0,477.8 310.2,478.3 312.2,479.3 314.2,480.7 320.8,486.4 327.8,493.5 330.2,495.8 336.8,500.5 349.5,508.6 351.5,510.5 354.0,513.6 360.5,523.2 364.5,530.4 367.5,537.1 375.2,557.0 380.2,568.6 384.0,576.4 385.2,578.2 386.8,579.5 388.2,580.0 389.5,579.7 390.8,578.7 392.0,577.0 396.5,566.9 405.0,545.0 408.2,537.9 411.2,532.7 413.8,529.1 416.2,526.6 419.2,524.7 420.8,524.2 422.0,524.1 424.5,524.8 427.2,525.8 430.5,527.4 443.0,534.7 445.8,536.1 448.0,536.9 450.2,537.3 452.8,537.5 465.5,537.2 468.5,538.0 471.5,539.7 473.5,541.5 475.2,543.7 482.8,555.2 499.8,589.0 506.0,599.0 521.8,625.3 526.2,636.0 L526.2,636.0 L66.5,636.0Z" fill="url(#g9)"/>
<path d="M66.5,516.6 69.0,515.5 71.0,514.2 78.8,506.5 88.5,497.7 96.8,490.5 103.5,485.2 107.5,482.5 115.5,477.9 120.2,475.5 124.2,473.9 126.2,473.5 128.5,473.4 131.0,473.9 133.8,474.8 138.8,477.0 146.2,481.0 147.8,482.1 151.2,485.5 153.0,486.7 154.0,487.1 154.8,487.1 155.5,486.9 156.5,486.3 158.2,484.3 160.2,481.2 170.5,461.5 187.8,417.9 191.5,409.5 194.0,404.8 196.5,400.8 198.5,398.1 200.2,396.1 202.2,394.5 204.5,393.2 206.8,392.5 209.5,392.2 211.8,392.5 213.5,393.1 215.2,394.2 217.0,395.8 219.0,398.1 223.5,404.7 228.5,413.8 231.0,419.3 240.8,443.6 245.8,458.6 249.5,468.6 251.8,473.1 253.2,475.3 254.8,477.1 256.2,478.5 257.5,479.3 259.5,479.9 261.5,480.2 263.8,480.0 268.2,478.8 270.2,478.5 292.2,479.2 295.5,478.9 302.5,477.8 305.8,477.6 308.0,477.8 310.2,478.3 312.2,479.3 314.2,480.7 320.8,486.4 327.8,493.5 330.2,495.8 336.8,500.5 349.5,508.6 351.5,510.5 354.0,513.6 360.5,523.2 364.5,530.4 367.5,537.1 375.2,557.0 380.2,568.6 384.0,576.4 385.2,578.2 386.8,579.5 388.2,580.0 389.5,579.7 390.8,578.7 392.0,577.0 396.5,566.9 405.0,545.0 408.2,537.9 411.2,532.7 413.8,529.1 416.2,526.6 419.2,524.7 420.8,524.2 422.0,524.1 424.5,524.8 427.2,525.8 430.5,527.4 443.0,534.7 445.8,536.1 448.0,536.9 450.2,537.3 452.8,537.5 465.5,537.2 468.5,538.0 471.5,539.7 473.5,541.5 475.2,543.7 482.8,555.2 499.8,589.0 506.0,599.0 521.8,625.3 526.2,636.0" fill="none" stroke="#081004" stroke-width="0.75" stroke-opacity="0.85" stroke-linejoin="round"/>
<path d="M580.9,636.0 583.0,632.8 587.2,624.6 589.2,621.7 591.0,619.7 592.8,618.2 594.2,617.4 595.8,617.2 597.5,617.6 599.5,618.5 601.2,619.7 603.2,621.4 610.2,629.2 615.3,636.0 L615.3,636.0 L580.9,636.0Z" fill="url(#g9)"/>
<path d="M580.9,636.0 583.0,632.8 587.2,624.6 589.2,621.7 591.0,619.7 592.8,618.2 594.2,617.4 595.8,617.2 597.5,617.6 599.5,618.5 601.2,619.7 603.2,621.4 610.2,629.2 615.3,636.0" fill="none" stroke="#081004" stroke-width="0.75" stroke-opacity="0.85" stroke-linejoin="round"/>
<path d="M60.8,554.4 63.5,553.2 66.0,551.8 79.0,542.8 85.3,538.8 90.0,536.0 92.8,534.5 95.3,533.4 101.5,531.7 106.8,530.6 110.0,530.2 114.0,530.0 117.0,530.3 119.5,531.3 124.0,533.8 125.0,534.9 127.5,538.6 128.8,539.9 129.8,540.1 131.3,539.1 133.6,536.3 136.1,531.9 148.8,506.5 161.6,479.9 170.3,463.4 180.3,445.4 185.1,435.6 187.1,432.0 196.3,418.1 198.8,415.3 202.1,412.9 205.3,411.3 208.6,410.6 210.1,410.5 211.6,410.7 214.6,411.8 217.3,413.4 219.3,415.1 222.1,418.2 226.3,424.1 231.6,432.1 234.8,437.8 237.3,443.0 239.8,449.2 243.8,460.5 249.6,478.2 254.8,497.5 258.1,511.0 259.8,519.2 262.3,527.5 267.8,542.4 271.8,552.2 275.8,560.5 277.3,562.9 278.8,564.6 280.6,565.6 281.8,565.7 283.1,564.9 284.3,563.3 290.3,550.7 301.1,526.8 304.3,521.2 308.8,515.0 312.6,510.9 314.6,509.3 316.3,508.3 318.1,507.6 319.8,507.3 321.8,507.4 323.8,507.7 325.8,508.4 327.8,509.6 329.6,511.0 331.6,512.9 336.3,518.8 341.3,526.3 343.8,531.0 345.8,535.3 353.3,554.5 356.8,562.5 362.1,573.3 366.6,581.2 369.8,585.3 373.8,588.8 375.3,589.7 376.8,590.2 378.3,590.4 379.6,590.2 380.8,589.8 382.1,589.1 384.3,587.0 386.3,584.2 389.1,579.4 391.8,573.8 394.6,567.5 401.8,548.1 403.8,543.9 406.1,539.9 409.1,535.6 411.3,533.2 412.3,532.6 413.3,532.2 414.3,532.2 415.6,532.5 416.8,533.1 418.3,534.3 421.1,537.3 423.6,541.4 426.6,547.6 428.8,553.2 430.8,558.9 436.8,579.0 440.6,590.0 445.8,603.3 447.8,607.6 449.6,610.8 451.1,613.0 452.3,614.2 454.1,615.3 455.8,615.8 458.1,616.0 461.1,615.7 466.1,613.7 468.1,613.3 469.6,613.6 471.3,614.8 473.1,616.7 475.3,619.6 476.6,621.7 477.6,623.7 479.3,629.0 482.1,640.5 L482.1,640.5 L60.8,640.5Z" fill="url(#g10)"/>
<path d="M60.8,554.4 63.5,553.2 66.0,551.8 79.0,542.8 85.3,538.8 90.0,536.0 92.8,534.5 95.3,533.4 101.5,531.7 106.8,530.6 110.0,530.2 114.0,530.0 117.0,530.3 119.5,531.3 124.0,533.8 125.0,534.9 127.5,538.6 128.8,539.9 129.8,540.1 131.3,539.1 133.6,536.3 136.1,531.9 148.8,506.5 161.6,479.9 170.3,463.4 180.3,445.4 185.1,435.6 187.1,432.0 196.3,418.1 198.8,415.3 202.1,412.9 205.3,411.3 208.6,410.6 210.1,410.5 211.6,410.7 214.6,411.8 217.3,413.4 219.3,415.1 222.1,418.2 226.3,424.1 231.6,432.1 234.8,437.8 237.3,443.0 239.8,449.2 243.8,460.5 249.6,478.2 254.8,497.5 258.1,511.0 259.8,519.2 262.3,527.5 267.8,542.4 271.8,552.2 275.8,560.5 277.3,562.9 278.8,564.6 280.6,565.6 281.8,565.7 283.1,564.9 284.3,563.3 290.3,550.7 301.1,526.8 304.3,521.2 308.8,515.0 312.6,510.9 314.6,509.3 316.3,508.3 318.1,507.6 319.8,507.3 321.8,507.4 323.8,507.7 325.8,508.4 327.8,509.6 329.6,511.0 331.6,512.9 336.3,518.8 341.3,526.3 343.8,531.0 345.8,535.3 353.3,554.5 356.8,562.5 362.1,573.3 366.6,581.2 369.8,585.3 373.8,588.8 375.3,589.7 376.8,590.2 378.3,590.4 379.6,590.2 380.8,589.8 382.1,589.1 384.3,587.0 386.3,584.2 389.1,579.4 391.8,573.8 394.6,567.5 401.8,548.1 403.8,543.9 406.1,539.9 409.1,535.6 411.3,533.2 412.3,532.6 413.3,532.2 414.3,532.2 415.6,532.5 416.8,533.1 418.3,534.3 421.1,537.3 423.6,541.4 426.6,547.6 428.8,553.2 430.8,558.9 436.8,579.0 440.6,590.0 445.8,603.3 447.8,607.6 449.6,610.8 451.1,613.0 452.3,614.2 454.1,615.3 455.8,615.8 458.1,616.0 461.1,615.7 466.1,613.7 468.1,613.3 469.6,613.6 471.3,614.8 473.1,616.7 475.3,619.6 476.6,621.7 477.6,623.7 479.3,629.0 482.1,640.5" fill="none" stroke="#081004" stroke-width="0.75" stroke-opacity="0.85" stroke-linejoin="round"/>
<path d="M55.9,611.9 56.1,611.3 57.6,610.6 63.6,609.0 66.2,607.9 79.2,600.1 89.4,592.8 93.4,590.3 96.7,589.0 102.9,586.9 105.9,586.7 106.9,586.1 107.9,585.0 109.2,583.2 110.7,580.5 116.4,568.2 119.4,562.3 121.4,559.2 126.7,552.2 129.2,548.0 158.9,483.0 161.9,477.1 178.2,447.0 185.2,437.1 190.2,431.3 191.4,428.8 193.4,425.9 195.9,423.1 198.9,420.9 201.7,419.7 205.9,418.8 209.9,418.6 211.4,418.9 212.9,419.4 216.2,421.4 219.9,424.7 224.7,429.8 227.9,434.1 232.4,441.3 234.9,445.9 237.4,451.4 239.9,457.9 243.4,467.9 249.7,487.1 254.7,506.5 260.4,531.4 264.1,544.0 271.1,565.9 274.1,574.5 277.1,581.9 278.4,584.2 279.6,585.8 280.4,586.2 280.9,586.3 282.1,585.6 283.6,583.8 284.9,581.4 291.9,562.8 301.4,535.7 304.6,528.0 308.4,520.5 311.6,515.6 313.4,513.6 315.4,511.8 317.1,510.6 319.1,509.6 321.1,509.1 322.6,509.2 325.1,510.3 327.4,511.9 329.4,513.8 331.6,516.6 333.9,520.1 336.4,524.6 338.9,529.6 341.1,534.8 343.4,540.7 345.6,547.7 354.1,577.3 364.4,611.0 367.1,619.0 368.6,622.4 369.6,623.9 370.4,624.2 371.4,623.4 372.4,622.1 373.6,619.8 397.6,564.5 401.6,556.2 404.4,551.8 405.9,550.0 407.4,548.4 408.6,547.5 410.1,546.8 411.6,546.4 412.9,546.4 414.1,546.9 415.4,547.7 419.1,551.2 421.1,553.8 422.6,557.0 424.6,563.3 429.4,581.5 437.6,609.5 443.1,625.6 444.6,629.3 446.1,632.3 447.4,634.1 448.6,635.4 449.9,636.4 451.1,636.9 452.9,637.0 457.9,636.7 461.4,636.8 463.1,637.0 464.6,637.5 465.6,638.1 466.6,639.1 471.0,645.0 L471.0,645.0 L55.9,645.0Z" fill="url(#g11)"/>
<path d="M55.9,611.9 56.1,611.3 57.6,610.6 63.6,609.0 66.2,607.9 79.2,600.1 89.4,592.8 93.4,590.3 96.7,589.0 102.9,586.9 105.9,586.7 106.9,586.1 107.9,585.0 109.2,583.2 110.7,580.5 116.4,568.2 119.4,562.3 121.4,559.2 126.7,552.2 129.2,548.0 158.9,483.0 161.9,477.1 178.2,447.0 185.2,437.1 190.2,431.3 191.4,428.8 193.4,425.9 195.9,423.1 198.9,420.9 201.7,419.7 205.9,418.8 209.9,418.6 211.4,418.9 212.9,419.4 216.2,421.4 219.9,424.7 224.7,429.8 227.9,434.1 232.4,441.3 234.9,445.9 237.4,451.4 239.9,457.9 243.4,467.9 249.7,487.1 254.7,506.5 260.4,531.4 264.1,544.0 271.1,565.9 274.1,574.5 277.1,581.9 278.4,584.2 279.6,585.8 280.4,586.2 280.9,586.3 282.1,585.6 283.6,583.8 284.9,581.4 291.9,562.8 301.4,535.7 304.6,528.0 308.4,520.5 311.6,515.6 313.4,513.6 315.4,511.8 317.1,510.6 319.1,509.6 321.1,509.1 322.6,509.2 325.1,510.3 327.4,511.9 329.4,513.8 331.6,516.6 333.9,520.1 336.4,524.6 338.9,529.6 341.1,534.8 343.4,540.7 345.6,547.7 354.1,577.3 364.4,611.0 367.1,619.0 368.6,622.4 369.6,623.9 370.4,624.2 371.4,623.4 372.4,622.1 373.6,619.8 397.6,564.5 401.6,556.2 404.4,551.8 405.9,550.0 407.4,548.4 408.6,547.5 410.1,546.8 411.6,546.4 412.9,546.4 414.1,546.9 415.4,547.7 419.1,551.2 421.1,553.8 422.6,557.0 424.6,563.3 429.4,581.5 437.6,609.5 443.1,625.6 444.6,629.3 446.1,632.3 447.4,634.1 448.6,635.4 449.9,636.4 451.1,636.9 452.9,637.0 457.9,636.7 461.4,636.8 463.1,637.0 464.6,637.5 465.6,638.1 466.6,639.1 471.0,645.0" fill="none" stroke="#081004" stroke-width="0.75" stroke-opacity="0.85" stroke-linejoin="round"/>
<path d="M89.6,649.5 92.5,637.7 98.2,611.9 100.8,603.8 103.5,596.6 112.8,575.1 118.2,563.4 121.0,558.7 127.0,550.6 129.8,545.8 157.0,486.1 160.2,479.3 177.2,447.6 182.2,439.8 184.5,436.7 192.5,427.4 195.0,425.1 196.2,424.4 198.0,423.9 202.0,423.0 204.8,422.7 206.5,422.8 208.0,423.3 211.2,425.1 215.5,428.6 219.8,432.9 225.5,440.9 226.2,441.6 227.8,442.4 228.5,443.4 232.5,450.8 236.0,458.1 238.5,463.9 241.0,470.5 249.8,495.6 255.0,513.7 260.5,535.1 264.2,546.8 272.5,570.9 275.2,578.4 277.8,584.2 278.8,585.8 279.8,586.9 280.5,587.3 281.0,587.3 282.2,586.5 283.8,584.6 285.0,582.1 290.2,568.0 301.0,538.0 304.5,529.8 308.5,521.9 310.2,519.2 312.0,516.9 313.8,515.1 315.8,513.5 317.8,512.3 320.0,511.5 321.8,511.3 323.2,511.6 325.8,512.8 327.8,514.2 329.8,516.3 331.8,518.9 334.0,522.5 336.2,526.8 338.8,532.1 341.0,537.5 343.2,543.7 345.2,550.1 354.0,581.2 363.8,614.0 367.0,623.8 368.5,627.2 369.8,629.0 370.5,629.2 371.5,628.6 372.5,627.3 373.8,625.0 390.0,584.3 393.5,576.7 399.0,566.1 402.5,560.9 404.2,558.9 405.8,557.6 407.8,556.4 411.2,554.9 412.5,554.5 413.8,554.6 414.8,555.0 415.8,556.0 416.8,557.6 417.8,559.9 419.0,563.9 422.0,575.6 427.5,593.5 431.2,604.9 438.5,624.5 441.2,630.6 444.0,635.9 445.8,638.3 446.8,639.1 447.5,639.3 449.8,639.5 452.0,639.4 460.2,638.1 462.5,638.4 465.2,639.3 466.8,640.6 469.2,644.3 470.2,646.4 471.3,649.5 L471.3,649.5 L89.6,649.5Z" fill="url(#g12)"/>
<path d="M89.6,649.5 92.5,637.7 98.2,611.9 100.8,603.8 103.5,596.6 112.8,575.1 118.2,563.4 121.0,558.7 127.0,550.6 129.8,545.8 157.0,486.1 160.2,479.3 177.2,447.6 182.2,439.8 184.5,436.7 192.5,427.4 195.0,425.1 196.2,424.4 198.0,423.9 202.0,423.0 204.8,422.7 206.5,422.8 208.0,423.3 211.2,425.1 215.5,428.6 219.8,432.9 225.5,440.9 226.2,441.6 227.8,442.4 228.5,443.4 232.5,450.8 236.0,458.1 238.5,463.9 241.0,470.5 249.8,495.6 255.0,513.7 260.5,535.1 264.2,546.8 272.5,570.9 275.2,578.4 277.8,584.2 278.8,585.8 279.8,586.9 280.5,587.3 281.0,587.3 282.2,586.5 283.8,584.6 285.0,582.1 290.2,568.0 301.0,538.0 304.5,529.8 308.5,521.9 310.2,519.2 312.0,516.9 313.8,515.1 315.8,513.5 317.8,512.3 320.0,511.5 321.8,511.3 323.2,511.6 325.8,512.8 327.8,514.2 329.8,516.3 331.8,518.9 334.0,522.5 336.2,526.8 338.8,532.1 341.0,537.5 343.2,543.7 345.2,550.1 354.0,581.2 363.8,614.0 367.0,623.8 368.5,627.2 369.8,629.0 370.5,629.2 371.5,628.6 372.5,627.3 373.8,625.0 390.0,584.3 393.5,576.7 399.0,566.1 402.5,560.9 404.2,558.9 405.8,557.6 407.8,556.4 411.2,554.9 412.5,554.5 413.8,554.6 414.8,555.0 415.8,556.0 416.8,557.6 417.8,559.9 419.0,563.9 422.0,575.6 427.5,593.5 431.2,604.9 438.5,624.5 441.2,630.6 444.0,635.9 445.8,638.3 446.8,639.1 447.5,639.3 449.8,639.5 452.0,639.4 460.2,638.1 462.5,638.4 465.2,639.3 466.8,640.6 469.2,644.3 470.2,646.4 471.3,649.5" fill="none" stroke="#081004" stroke-width="0.75" stroke-opacity="0.85" stroke-linejoin="round"/>
<path d="M88.0,654.0 92.2,636.8 98.2,609.9 100.5,602.6 103.2,595.2 112.8,573.1 118.2,561.4 121.0,556.7 127.0,548.6 129.8,543.8 159.5,478.8 176.8,446.5 179.2,442.2 182.8,437.1 185.0,434.6 186.8,433.0 190.8,429.6 194.0,427.3 195.8,426.5 197.8,425.9 200.2,425.3 202.5,425.1 205.2,425.5 208.5,426.8 211.8,428.8 215.2,431.6 217.0,433.3 218.8,435.4 224.2,443.1 226.8,446.2 227.8,447.9 231.5,456.5 239.2,475.8 254.5,519.5 261.5,542.2 269.8,563.8 273.0,573.3 275.8,580.8 277.5,584.8 278.5,586.6 279.5,587.8 280.5,588.4 281.8,588.0 283.2,586.4 284.5,584.1 289.0,572.3 296.2,551.7 300.8,540.0 304.5,531.4 308.8,523.3 310.5,520.7 312.2,518.6 314.2,516.8 316.2,515.5 318.2,514.5 320.5,514.0 322.2,513.9 324.0,514.4 326.0,515.3 328.0,516.7 329.8,518.5 331.8,521.3 333.8,524.6 335.8,528.5 340.5,539.3 342.5,544.8 344.5,551.2 352.2,579.2 361.8,611.5 366.8,626.6 368.2,629.9 369.5,631.8 370.0,632.2 370.5,632.3 371.5,631.8 372.5,630.7 373.8,628.3 389.5,587.0 392.2,580.9 395.2,575.2 398.5,570.0 401.8,566.3 403.2,565.0 405.8,563.4 407.2,562.8 408.5,562.8 409.2,563.1 410.2,564.0 412.2,566.8 416.5,575.0 419.5,581.3 422.5,588.9 429.0,608.7 434.0,622.2 438.2,632.3 440.0,635.6 441.8,638.3 444.8,642.0 446.0,643.0 447.0,643.3 451.5,642.6 460.0,640.6 462.0,640.8 464.2,641.7 465.5,642.4 466.5,643.2 469.5,646.7 471.2,650.0 472.2,654.0 L472.2,654.0 L88.0,654.0Z" fill="url(#g13)"/>
<path d="M88.0,654.0 92.2,636.8 98.2,609.9 100.5,602.6 103.2,595.2 112.8,573.1 118.2,561.4 121.0,556.7 127.0,548.6 129.8,543.8 159.5,478.8 176.8,446.5 179.2,442.2 182.8,437.1 185.0,434.6 186.8,433.0 190.8,429.6 194.0,427.3 195.8,426.5 197.8,425.9 200.2,425.3 202.5,425.1 205.2,425.5 208.5,426.8 211.8,428.8 215.2,431.6 217.0,433.3 218.8,435.4 224.2,443.1 226.8,446.2 227.8,447.9 231.5,456.5 239.2,475.8 254.5,519.5 261.5,542.2 269.8,563.8 273.0,573.3 275.8,580.8 277.5,584.8 278.5,586.6 279.5,587.8 280.5,588.4 281.8,588.0 283.2,586.4 284.5,584.1 289.0,572.3 296.2,551.7 300.8,540.0 304.5,531.4 308.8,523.3 310.5,520.7 312.2,518.6 314.2,516.8 316.2,515.5 318.2,514.5 320.5,514.0 322.2,513.9 324.0,514.4 326.0,515.3 328.0,516.7 329.8,518.5 331.8,521.3 333.8,524.6 335.8,528.5 340.5,539.3 342.5,544.8 344.5,551.2 352.2,579.2 361.8,611.5 366.8,626.6 368.2,629.9 369.5,631.8 370.0,632.2 370.5,632.3 371.5,631.8 372.5,630.7 373.8,628.3 389.5,587.0 392.2,580.9 395.2,575.2 398.5,570.0 401.8,566.3 403.2,565.0 405.8,563.4 407.2,562.8 408.5,562.8 409.2,563.1 410.2,564.0 412.2,566.8 416.5,575.0 419.5,581.3 422.5,588.9 429.0,608.7 434.0,622.2 438.2,632.3 440.0,635.6 441.8,638.3 444.8,642.0 446.0,643.0 447.0,643.3 451.5,642.6 460.0,640.6 462.0,640.8 464.2,641.7 465.5,642.4 466.5,643.2 469.5,646.7 471.2,650.0 472.2,654.0" fill="none" stroke="#081004" stroke-width="0.75" stroke-opacity="0.85" stroke-linejoin="round"/>
<path d="M86.0,658.5 92.2,633.8 97.5,609.9 99.8,601.8 101.5,596.7 103.8,591.0 112.0,571.8 116.5,561.9 118.8,557.4 120.2,554.9 126.5,546.4 129.2,541.8 159.0,476.8 162.5,470.0 178.0,441.3 179.8,438.6 181.5,436.4 183.5,434.5 185.5,433.0 188.0,431.5 192.0,429.7 194.5,429.0 196.8,428.8 200.2,429.2 203.8,430.6 207.2,432.9 210.8,436.1 214.2,440.2 217.5,444.7 219.8,448.4 224.2,456.6 226.8,460.0 227.8,461.8 231.0,469.4 239.2,490.4 252.0,525.9 256.5,538.9 263.2,560.4 272.2,587.1 274.2,592.2 276.8,597.8 277.8,599.6 278.8,600.7 279.5,601.2 280.2,601.4 281.2,601.2 282.2,600.7 283.8,599.0 285.2,596.0 291.0,580.1 302.8,545.2 306.5,535.5 309.5,529.0 311.0,526.6 312.8,524.4 314.8,522.5 317.0,520.9 319.0,519.9 321.0,519.3 323.0,519.2 325.0,519.5 326.8,520.2 328.5,521.5 330.2,523.4 332.0,525.9 333.8,528.9 335.8,532.9 340.5,544.1 344.2,555.2 352.0,583.4 361.2,614.2 366.2,628.8 367.8,632.1 369.2,634.2 370.2,634.8 371.2,634.5 372.2,633.5 373.5,631.3 388.8,589.7 391.2,583.8 394.0,578.4 397.5,572.8 399.0,571.0 400.8,569.3 402.8,567.8 404.5,566.9 406.0,566.6 407.5,566.7 409.2,567.7 411.0,569.5 413.0,572.4 414.5,575.5 420.5,592.0 428.2,615.4 431.2,623.8 438.8,642.8 441.0,647.9 442.5,650.7 443.5,651.9 444.8,652.8 445.8,653.0 447.2,652.9 450.0,652.1 455.5,649.3 457.8,648.3 461.0,647.6 463.2,647.5 464.2,647.8 465.5,648.6 467.0,649.9 467.8,650.8 469.8,654.5 471.1,658.5 L471.1,658.5 L86.0,658.5Z" fill="url(#g14)"/>
<path d="M86.0,658.5 92.2,633.8 97.5,609.9 99.8,601.8 101.5,596.7 103.8,591.0 112.0,571.8 116.5,561.9 118.8,557.4 120.2,554.9 126.5,546.4 129.2,541.8 159.0,476.8 162.5,470.0 178.0,441.3 179.8,438.6 181.5,436.4 183.5,434.5 185.5,433.0 188.0,431.5 192.0,429.7 194.5,429.0 196.8,428.8 200.2,429.2 203.8,430.6 207.2,432.9 210.8,436.1 214.2,440.2 217.5,444.7 219.8,448.4 224.2,456.6 226.8,460.0 227.8,461.8 231.0,469.4 239.2,490.4 252.0,525.9 256.5,538.9 263.2,560.4 272.2,587.1 274.2,592.2 276.8,597.8 277.8,599.6 278.8,600.7 279.5,601.2 280.2,601.4 281.2,601.2 282.2,600.7 283.8,599.0 285.2,596.0 291.0,580.1 302.8,545.2 306.5,535.5 309.5,529.0 311.0,526.6 312.8,524.4 314.8,522.5 317.0,520.9 319.0,519.9 321.0,519.3 323.0,519.2 325.0,519.5 326.8,520.2 328.5,521.5 330.2,523.4 332.0,525.9 333.8,528.9 335.8,532.9 340.5,544.1 344.2,555.2 352.0,583.4 361.2,614.2 366.2,628.8 367.8,632.1 369.2,634.2 370.2,634.8 371.2,634.5 372.2,633.5 373.5,631.3 388.8,589.7 391.2,583.8 394.0,578.4 397.5,572.8 399.0,571.0 400.8,569.3 402.8,567.8 404.5,566.9 406.0,566.6 407.5,566.7 409.2,567.7 411.0,569.5 413.0,572.4 414.5,575.5 420.5,592.0 428.2,615.4 431.2,623.8 438.8,642.8 441.0,647.9 442.5,650.7 443.5,651.9 444.8,652.8 445.8,653.0 447.2,652.9 450.0,652.1 455.5,649.3 457.8,648.3 461.0,647.6 463.2,647.5 464.2,647.8 465.5,648.6 467.0,649.9 467.8,650.8 469.8,654.5 471.1,658.5" fill="none" stroke="#081004" stroke-width="0.75" stroke-opacity="0.85" stroke-linejoin="round"/>
<defs><linearGradient id="lg" x1="0" x2="0" y1="0" y2="1"><stop offset="0.0000" stop-color="#ff0800"/><stop offset="0.0500" stop-color="#f83800"/><stop offset="0.1000" stop-color="#f47000"/><stop offset="0.1500" stop-color="#f0a000"/><stop offset="0.2000" stop-color="#ecd000"/><stop offset="0.2283" stop-color="#e6e000"/><stop offset="0.2500" stop-color="#d4dc00"/><stop offset="0.2750" stop-color="#b8d000"/><stop offset="0.3000" stop-color="#98c600"/><stop offset="0.3250" stop-color="#7cbe00"/><stop offset="0.3500" stop-color="#60b800"/><stop offset="0.3750" stop-color="#48b400"/><stop offset="0.4000" stop-color="#30b000"/><stop offset="0.4250" stop-color="#18ae04"/><stop offset="0.4500" stop-color="#08ac08"/><stop offset="0.5000" stop-color="#00b024"/><stop offset="0.5500" stop-color="#00b458"/><stop offset="0.6000" stop-color="#00b880"/><stop offset="0.6500" stop-color="#00a890"/><stop offset="0.7000" stop-color="#008c98"/><stop offset="0.7500" stop-color="#007090"/><stop offset="0.8000" stop-color="#004e96"/><stop offset="0.8500" stop-color="#002c98"/><stop offset="0.9000" stop-color="#0808a0"/><stop offset="0.9500" stop-color="#221088"/><stop offset="1.0000" stop-color="#300870"/></linearGradient></defs>
<rect x="1376.5" y="179.5" width="29.0" height="358.0" fill="url(#lg)" stroke="#000" stroke-width="1"/>
<line x1="1376.5" y1="197.5" x2="1405.5" y2="197.5" stroke="#000" stroke-width="1"/>
<line x1="1376.5" y1="233.5" x2="1405.5" y2="233.5" stroke="#000" stroke-width="1"/>
<line x1="1376.5" y1="268.5" x2="1405.5" y2="268.5" stroke="#000" stroke-width="1"/>
<line x1="1376.5" y1="304.5" x2="1405.5" y2="304.5" stroke="#000" stroke-width="1"/>
<line x1="1376.5" y1="340.5" x2="1405.5" y2="340.5" stroke="#000" stroke-width="1"/>
<line x1="1376.5" y1="376.5" x2="1405.5" y2="376.5" stroke="#000" stroke-width="1"/>
<line x1="1376.5" y1="412.5" x2="1405.5" y2="412.5" stroke="#000" stroke-width="1"/>
<line x1="1376.5" y1="448.5" x2="1405.5" y2="448.5" stroke="#000" stroke-width="1"/>
<line x1="1376.5" y1="483.5" x2="1405.5" y2="483.5" stroke="#000" stroke-width="1"/>
<line x1="1376.5" y1="519.5" x2="1405.5" y2="519.5" stroke="#000" stroke-width="1"/>
</svg>
<div class="title">Waterfall LFE avant calibrage</div>
<div class="t" style="left:19.5px;top:42.2px;transform:scaleX(.73);transform-origin:left center;">SPL</div>
<div class="bbox" style="left:6px;top:52px;width:33px;height:17px;line-height:17.5px;"><span style="display:inline-block;transform:scaleX(.94) translateX(.5px)">105,0</span></div>
<div class="bbox" style="left:24px;top:661px;width:32px;height:17px;line-height:17.5px;"><span style="display:inline-block;transform:scaleX(.9) translateX(1.2px)">10,00</span></div>
<div class="t r n" style="left:0;width:38.5px;top:596.1px;transform-origin:right center">55</div><div class="t r n" style="left:0;width:38.5px;top:541.8px;transform-origin:right center">60</div><div class="t r n" style="left:0;width:38.5px;top:487.4px;transform-origin:right center">65</div><div class="t r n" style="left:0;width:38.5px;top:433.0px;transform-origin:right center">70</div><div class="t r n" style="left:0;width:38.5px;top:378.7px;transform-origin:right center">75</div><div class="t r n" style="left:0;width:38.5px;top:324.3px;transform-origin:right center">80</div><div class="t r n" style="left:0;width:38.5px;top:270.0px;transform-origin:right center">85</div><div class="t r n" style="left:0;width:38.5px;top:215.6px;transform-origin:right center">90</div><div class="t r n" style="left:0;width:38.5px;top:161.2px;transform-origin:right center">95</div><div class="t r n" style="left:0;width:38.5px;top:106.9px;transform-origin:right center">100</div><div class="t c n" style="left:221.8px;width:40px;top:663px">20</div><div class="t c n" style="left:339.2px;width:40px;top:663px">30</div><div class="t c n" style="left:422.5px;width:40px;top:663px">40</div><div class="t c n" style="left:487.1px;width:40px;top:663px">50</div><div class="t c n" style="left:539.8px;width:40px;top:663px">60</div><div class="t c n" style="left:584.5px;width:40px;top:663px">70</div><div class="t c n" style="left:623.1px;width:40px;top:663px">80</div><div class="t c n" style="left:657.2px;width:40px;top:663px">90</div><div class="t c n" style="left:687.7px;width:40px;top:663px">100</div><div class="t c n" style="left:888.3px;width:40px;top:663px">200</div><div class="t c n" style="left:1005.7px;width:40px;top:663px">300</div><div class="t c n" style="left:1089.0px;width:40px;top:663px">400</div><div class="t c n" style="left:1153.6px;width:40px;top:663px">500</div><div class="t c n" style="left:1206.3px;width:40px;top:663px">600</div><div class="t c n" style="left:1251.0px;width:40px;top:663px">700</div><div class="t c n" style="left:1289.6px;width:40px;top:663px">800</div><div class="t c n" style="left:1323.7px;width:40px;top:663px">900</div><div class="t" style="left:1362.5px;top:663px;transform:scaleX(.93);transform-origin:left center">1kHz</div><div class="t n" style="left:1409px;top:190.3px;transform-origin:left center">92</div><div class="t n" style="left:1409px;top:226.3px;transform-origin:left center">86</div><div class="t n" style="left:1409px;top:261.3px;transform-origin:left center">80</div><div class="t n" style="left:1409px;top:297.3px;transform-origin:left center">74</div><div class="t n" style="left:1409px;top:333.3px;transform-origin:left center">68</div><div class="t n" style="left:1409px;top:369.3px;transform-origin:left center">62</div><div class="t n" style="left:1409px;top:405.3px;transform-origin:left center">56</div><div class="t n" style="left:1409px;top:441.3px;transform-origin:left center">50</div><div class="t n" style="left:1409px;top:476.3px;transform-origin:left center">44</div><div class="t n" style="left:1409px;top:512.3px;transform-origin:left center">38</div><div class="t n" style="left:1384.5px;top:165.5px;transform-origin:left center">95</div><div class="t n" style="left:1384.5px;top:538.5px;transform-origin:left center">35</div>
<div class="box" style="left:60.5px;top:150.5px;width:21px;height:17px;line-height:17px;"><span>217</span></div>
<div class="box" style="left:86.5px;top:144.5px;width:19.5px;height:15px;line-height:14.5px;"><span style="transform:scaleX(.86)">108</span></div>
<div class="box" style="left:111.5px;top:139.5px;width:9px;height:14.5px;line-height:13.5px;"><span style="transform:scale(.86,.96)">0</span></div>
<div class="box" style="left:1212px;top:139.5px;width:9px;height:14.5px;line-height:13.5px;"><span style="transform:scale(.86,.96)">0</span></div>
<div class="box" style="left:1255.5px;top:144.5px;width:19.5px;height:15px;line-height:14.5px;"><span style="transform:scaleX(.86)">108</span></div>
<div class="box" style="left:1308px;top:150.5px;width:21px;height:17px;line-height:17px;"><span>217</span></div>
<div class="box" style="left:955px;top:61px;width:419px;height:17px;font-size:11.6px;line-height:15px;white-space:nowrap;">400 ms window, 100 ms rise time, 21,7 ms slice interval, 2,0 Hz resn, t = 303 ms</div>
<div style="position:absolute;left:542px;top:686px;width:11.6px;height:11.6px;border:1.2px solid #1a7cfa;border-radius:3px;background:#fff;"></div>
<svg style="position:absolute;left:542px;top:686px" width="14" height="14" viewBox="0 0 14 14"><path d="M3.1 7.6 L5.7 10.6 L10.6 3.8" fill="none" stroke="#1a7cfa" stroke-width="2" stroke-linecap="round" stroke-linejoin="round"/></svg>
<div class="t" style="left:562px;top:686px;color:#c0000c;transform:scaleX(.85);transform-origin:left center;">LFE-1</div>
<div style="position:absolute;left:726px;top:693px;width:51px;height:2px;background:#b4000c;"></div>
<div class="t" style="left:823px;top:686px;color:#c0000c;transform:scaleX(.92);transform-origin:left center;">45,2 dB</div>
</body></html>
